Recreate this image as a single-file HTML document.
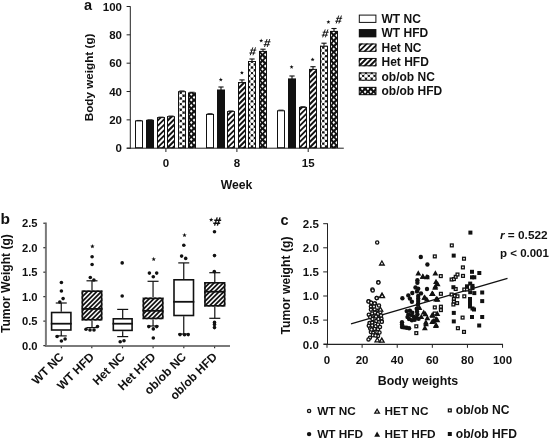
<!DOCTYPE html>
<html><head><meta charset="utf-8"><style>
html,body{margin:0;padding:0;background:#fff;}
svg{display:block;will-change:transform;}
.t{font-family:"Liberation Sans", sans-serif;font-weight:bold;font-size:11.5px;fill:#111;}
</style></head><body>
<svg width="551" height="441" viewBox="0 0 551 441">
<rect width="551" height="441" fill="#fff"/>
<line x1="130.3" y1="6.3" x2="130.3" y2="148.7" stroke="#222" stroke-width="1"/>
<line x1="126.8" y1="148.2" x2="343.8" y2="148.2" stroke="#222" stroke-width="1"/>
<line x1="126.6" y1="148.20" x2="130.3" y2="148.20" stroke="#222" stroke-width="1"/>
<text x="122" y="152.40" class="t" text-anchor="end">0</text>
<line x1="126.6" y1="119.86" x2="130.3" y2="119.86" stroke="#222" stroke-width="1"/>
<text x="122" y="124.06" class="t" text-anchor="end">20</text>
<line x1="126.6" y1="91.52" x2="130.3" y2="91.52" stroke="#222" stroke-width="1"/>
<text x="122" y="95.72" class="t" text-anchor="end">40</text>
<line x1="126.6" y1="63.18" x2="130.3" y2="63.18" stroke="#222" stroke-width="1"/>
<text x="122" y="67.38" class="t" text-anchor="end">60</text>
<line x1="126.6" y1="34.84" x2="130.3" y2="34.84" stroke="#222" stroke-width="1"/>
<text x="122" y="39.04" class="t" text-anchor="end">80</text>
<line x1="126.6" y1="6.50" x2="130.3" y2="6.50" stroke="#222" stroke-width="1"/>
<text x="122" y="10.70" class="t" text-anchor="end">100</text>
<line x1="165.9" y1="148.2" x2="165.9" y2="152" stroke="#222" stroke-width="1"/>
<text x="165.9" y="167.4" class="t" text-anchor="middle">0</text>
<line x1="236.9" y1="148.2" x2="236.9" y2="152" stroke="#222" stroke-width="1"/>
<text x="236.9" y="167.4" class="t" text-anchor="middle">8</text>
<line x1="308.2" y1="148.2" x2="308.2" y2="152" stroke="#222" stroke-width="1"/>
<text x="308.2" y="167.4" class="t" text-anchor="middle">15</text>
<text x="236.5" y="188.6" class="t" text-anchor="middle" style="font-size:12.2px">Week</text>
<text transform="translate(93.2,77.4) rotate(-90)" class="t" text-anchor="middle" style="font-size:11.7px">Body weight (g)</text>
<text x="84" y="10.4" class="t" style="font-size:14.5px">a</text>
<line x1="139.00" y1="120.50" x2="139.00" y2="120.90" stroke="#111" stroke-width="1.1"/>
<line x1="136.40" y1="120.50" x2="141.60" y2="120.50" stroke="#111" stroke-width="1.1"/>
<rect x="135.50" y="120.90" width="7.00" height="26.80" fill="#fff" stroke="#111" stroke-width="1"/>
<line x1="150.00" y1="119.90" x2="150.00" y2="120.30" stroke="#111" stroke-width="1.1"/>
<line x1="147.40" y1="119.90" x2="152.60" y2="119.90" stroke="#111" stroke-width="1.1"/>
<rect x="146.00" y="119.80" width="8.00" height="28.40" fill="#111"/>
<line x1="161.00" y1="117.20" x2="161.00" y2="117.60" stroke="#111" stroke-width="1.1"/>
<line x1="158.40" y1="117.20" x2="163.60" y2="117.20" stroke="#111" stroke-width="1.1"/>
<clipPath id="c1"><rect x="157.00" y="117.10" width="8.00" height="31.10"/></clipPath>
<g clip-path="url(#c1)">
<rect x="157.00" y="117.10" width="8.00" height="31.10" fill="#fff"/>
<line x1="155.00" y1="166.40" x2="198.10" y2="123.30" stroke="#111" stroke-width="1.75"/>
<line x1="155.00" y1="161.00" x2="198.10" y2="117.90" stroke="#111" stroke-width="1.75"/>
<line x1="155.00" y1="155.60" x2="198.10" y2="112.50" stroke="#111" stroke-width="1.75"/>
<line x1="155.00" y1="150.20" x2="198.10" y2="107.10" stroke="#111" stroke-width="1.75"/>
<line x1="155.00" y1="144.80" x2="198.10" y2="101.70" stroke="#111" stroke-width="1.75"/>
<line x1="155.00" y1="139.40" x2="198.10" y2="96.30" stroke="#111" stroke-width="1.75"/>
<line x1="155.00" y1="134.00" x2="198.10" y2="90.90" stroke="#111" stroke-width="1.75"/>
<line x1="155.00" y1="128.60" x2="198.10" y2="85.50" stroke="#111" stroke-width="1.75"/>
<line x1="155.00" y1="123.20" x2="198.10" y2="80.10" stroke="#111" stroke-width="1.75"/>
<line x1="155.00" y1="117.80" x2="198.10" y2="74.70" stroke="#111" stroke-width="1.75"/>
<line x1="155.00" y1="112.40" x2="198.10" y2="69.30" stroke="#111" stroke-width="1.75"/>
</g>
<rect x="157.50" y="117.60" width="7.00" height="30.10" fill="none" stroke="#111" stroke-width="1"/>
<line x1="171.00" y1="116.10" x2="171.00" y2="116.70" stroke="#111" stroke-width="1.1"/>
<line x1="168.40" y1="116.10" x2="173.60" y2="116.10" stroke="#111" stroke-width="1.1"/>
<clipPath id="c2"><rect x="167.00" y="116.20" width="8.00" height="32.00"/></clipPath>
<g clip-path="url(#c2)">
<rect x="167.00" y="116.20" width="8.00" height="32.00" fill="#fff"/>
<line x1="165.00" y1="166.40" x2="209.00" y2="122.40" stroke="#111" stroke-width="2.05"/>
<line x1="165.00" y1="161.00" x2="209.00" y2="117.00" stroke="#111" stroke-width="2.05"/>
<line x1="165.00" y1="155.60" x2="209.00" y2="111.60" stroke="#111" stroke-width="2.05"/>
<line x1="165.00" y1="150.20" x2="209.00" y2="106.20" stroke="#111" stroke-width="2.05"/>
<line x1="165.00" y1="144.80" x2="209.00" y2="100.80" stroke="#111" stroke-width="2.05"/>
<line x1="165.00" y1="139.40" x2="209.00" y2="95.40" stroke="#111" stroke-width="2.05"/>
<line x1="165.00" y1="134.00" x2="209.00" y2="90.00" stroke="#111" stroke-width="2.05"/>
<line x1="165.00" y1="128.60" x2="209.00" y2="84.60" stroke="#111" stroke-width="2.05"/>
<line x1="165.00" y1="123.20" x2="209.00" y2="79.20" stroke="#111" stroke-width="2.05"/>
<line x1="165.00" y1="117.80" x2="209.00" y2="73.80" stroke="#111" stroke-width="2.05"/>
<line x1="165.00" y1="112.40" x2="209.00" y2="68.40" stroke="#111" stroke-width="2.05"/>
</g>
<rect x="167.50" y="116.70" width="7.00" height="31.00" fill="none" stroke="#111" stroke-width="1"/>
<line x1="182.00" y1="91.00" x2="182.00" y2="91.70" stroke="#111" stroke-width="1.1"/>
<line x1="179.40" y1="91.00" x2="184.60" y2="91.00" stroke="#111" stroke-width="1.1"/>
<clipPath id="c3"><rect x="178.00" y="91.20" width="8.00" height="57.00"/></clipPath>
<g clip-path="url(#c3)">
<rect x="178.00" y="91.20" width="8.00" height="57.00" fill="#fff"/>
<line x1="175.05" y1="47.60" x2="189.30" y2="61.72" stroke="#444" stroke-width="0.55"/>
<line x1="175.05" y1="53.25" x2="189.30" y2="67.38" stroke="#444" stroke-width="0.55"/>
<line x1="175.05" y1="58.90" x2="189.30" y2="73.03" stroke="#444" stroke-width="0.55"/>
<line x1="175.05" y1="64.55" x2="189.30" y2="78.67" stroke="#444" stroke-width="0.55"/>
<line x1="175.05" y1="70.20" x2="189.30" y2="84.32" stroke="#444" stroke-width="0.55"/>
<line x1="175.05" y1="75.85" x2="189.30" y2="89.97" stroke="#444" stroke-width="0.55"/>
<line x1="175.05" y1="81.50" x2="189.30" y2="95.62" stroke="#444" stroke-width="0.55"/>
<line x1="175.05" y1="87.15" x2="189.30" y2="101.28" stroke="#444" stroke-width="0.55"/>
<line x1="175.05" y1="92.80" x2="189.30" y2="106.92" stroke="#444" stroke-width="0.55"/>
<line x1="175.05" y1="98.45" x2="189.30" y2="112.58" stroke="#444" stroke-width="0.55"/>
<line x1="175.05" y1="104.10" x2="189.30" y2="118.22" stroke="#444" stroke-width="0.55"/>
<line x1="175.05" y1="109.75" x2="189.30" y2="123.88" stroke="#444" stroke-width="0.55"/>
<line x1="175.05" y1="115.40" x2="189.30" y2="129.53" stroke="#444" stroke-width="0.55"/>
<line x1="175.05" y1="121.05" x2="189.30" y2="135.18" stroke="#444" stroke-width="0.55"/>
<line x1="175.05" y1="126.70" x2="189.30" y2="140.83" stroke="#444" stroke-width="0.55"/>
<line x1="175.05" y1="132.35" x2="189.30" y2="146.47" stroke="#444" stroke-width="0.55"/>
<line x1="175.05" y1="138.00" x2="189.30" y2="152.12" stroke="#444" stroke-width="0.55"/>
<line x1="175.05" y1="143.65" x2="189.30" y2="157.78" stroke="#444" stroke-width="0.55"/>
<line x1="175.05" y1="149.30" x2="189.30" y2="163.43" stroke="#444" stroke-width="0.55"/>
<line x1="175.05" y1="154.95" x2="189.30" y2="169.07" stroke="#444" stroke-width="0.55"/>
<line x1="175.05" y1="160.60" x2="189.30" y2="174.72" stroke="#444" stroke-width="0.55"/>
<line x1="175.05" y1="166.25" x2="189.30" y2="180.38" stroke="#444" stroke-width="0.55"/>
<line x1="175.05" y1="171.90" x2="189.30" y2="186.03" stroke="#444" stroke-width="0.55"/>
<line x1="175.05" y1="177.55" x2="189.30" y2="191.68" stroke="#444" stroke-width="0.55"/>
<line x1="175.05" y1="183.20" x2="189.30" y2="197.32" stroke="#444" stroke-width="0.55"/>
<line x1="175.05" y1="188.85" x2="189.30" y2="202.98" stroke="#444" stroke-width="0.55"/>
<line x1="175.05" y1="47.60" x2="189.30" y2="33.47" stroke="#444" stroke-width="0.55"/>
<line x1="175.05" y1="53.25" x2="189.30" y2="39.12" stroke="#444" stroke-width="0.55"/>
<line x1="175.05" y1="58.90" x2="189.30" y2="44.77" stroke="#444" stroke-width="0.55"/>
<line x1="175.05" y1="64.55" x2="189.30" y2="50.42" stroke="#444" stroke-width="0.55"/>
<line x1="175.05" y1="70.20" x2="189.30" y2="56.07" stroke="#444" stroke-width="0.55"/>
<line x1="175.05" y1="75.85" x2="189.30" y2="61.72" stroke="#444" stroke-width="0.55"/>
<line x1="175.05" y1="81.50" x2="189.30" y2="67.38" stroke="#444" stroke-width="0.55"/>
<line x1="175.05" y1="87.15" x2="189.30" y2="73.03" stroke="#444" stroke-width="0.55"/>
<line x1="175.05" y1="92.80" x2="189.30" y2="78.67" stroke="#444" stroke-width="0.55"/>
<line x1="175.05" y1="98.45" x2="189.30" y2="84.33" stroke="#444" stroke-width="0.55"/>
<line x1="175.05" y1="104.10" x2="189.30" y2="89.97" stroke="#444" stroke-width="0.55"/>
<line x1="175.05" y1="109.75" x2="189.30" y2="95.62" stroke="#444" stroke-width="0.55"/>
<line x1="175.05" y1="115.40" x2="189.30" y2="101.28" stroke="#444" stroke-width="0.55"/>
<line x1="175.05" y1="121.05" x2="189.30" y2="106.92" stroke="#444" stroke-width="0.55"/>
<line x1="175.05" y1="126.70" x2="189.30" y2="112.58" stroke="#444" stroke-width="0.55"/>
<line x1="175.05" y1="132.35" x2="189.30" y2="118.22" stroke="#444" stroke-width="0.55"/>
<line x1="175.05" y1="138.00" x2="189.30" y2="123.88" stroke="#444" stroke-width="0.55"/>
<line x1="175.05" y1="143.65" x2="189.30" y2="129.53" stroke="#444" stroke-width="0.55"/>
<line x1="175.05" y1="149.30" x2="189.30" y2="135.18" stroke="#444" stroke-width="0.55"/>
<line x1="175.05" y1="154.95" x2="189.30" y2="140.82" stroke="#444" stroke-width="0.55"/>
<line x1="175.05" y1="160.60" x2="189.30" y2="146.47" stroke="#444" stroke-width="0.55"/>
<line x1="175.05" y1="166.25" x2="189.30" y2="152.12" stroke="#444" stroke-width="0.55"/>
<line x1="175.05" y1="171.90" x2="189.30" y2="157.78" stroke="#444" stroke-width="0.55"/>
<line x1="175.05" y1="177.55" x2="189.30" y2="163.43" stroke="#444" stroke-width="0.55"/>
<line x1="175.05" y1="183.20" x2="189.30" y2="169.07" stroke="#444" stroke-width="0.55"/>
<line x1="175.05" y1="188.85" x2="189.30" y2="174.73" stroke="#444" stroke-width="0.55"/>
<circle cx="175.05" cy="87.15" r="1.2" fill="#111"/>
<circle cx="175.05" cy="92.80" r="1.2" fill="#111"/>
<circle cx="175.05" cy="98.45" r="1.2" fill="#111"/>
<circle cx="175.05" cy="104.10" r="1.2" fill="#111"/>
<circle cx="175.05" cy="109.75" r="1.2" fill="#111"/>
<circle cx="175.05" cy="115.40" r="1.2" fill="#111"/>
<circle cx="175.05" cy="121.05" r="1.2" fill="#111"/>
<circle cx="175.05" cy="126.70" r="1.2" fill="#111"/>
<circle cx="175.05" cy="132.35" r="1.2" fill="#111"/>
<circle cx="175.05" cy="138.00" r="1.2" fill="#111"/>
<circle cx="175.05" cy="143.65" r="1.2" fill="#111"/>
<circle cx="175.05" cy="149.30" r="1.2" fill="#111"/>
<circle cx="175.05" cy="154.95" r="1.2" fill="#111"/>
<circle cx="177.90" cy="84.40" r="1.2" fill="#111"/>
<circle cx="177.90" cy="90.05" r="1.2" fill="#111"/>
<circle cx="177.90" cy="95.70" r="1.2" fill="#111"/>
<circle cx="177.90" cy="101.35" r="1.2" fill="#111"/>
<circle cx="177.90" cy="107.00" r="1.2" fill="#111"/>
<circle cx="177.90" cy="112.65" r="1.2" fill="#111"/>
<circle cx="177.90" cy="118.30" r="1.2" fill="#111"/>
<circle cx="177.90" cy="123.95" r="1.2" fill="#111"/>
<circle cx="177.90" cy="129.60" r="1.2" fill="#111"/>
<circle cx="177.90" cy="135.25" r="1.2" fill="#111"/>
<circle cx="177.90" cy="140.90" r="1.2" fill="#111"/>
<circle cx="177.90" cy="146.55" r="1.2" fill="#111"/>
<circle cx="177.90" cy="152.20" r="1.2" fill="#111"/>
<circle cx="180.75" cy="87.15" r="1.2" fill="#111"/>
<circle cx="180.75" cy="92.80" r="1.2" fill="#111"/>
<circle cx="180.75" cy="98.45" r="1.2" fill="#111"/>
<circle cx="180.75" cy="104.10" r="1.2" fill="#111"/>
<circle cx="180.75" cy="109.75" r="1.2" fill="#111"/>
<circle cx="180.75" cy="115.40" r="1.2" fill="#111"/>
<circle cx="180.75" cy="121.05" r="1.2" fill="#111"/>
<circle cx="180.75" cy="126.70" r="1.2" fill="#111"/>
<circle cx="180.75" cy="132.35" r="1.2" fill="#111"/>
<circle cx="180.75" cy="138.00" r="1.2" fill="#111"/>
<circle cx="180.75" cy="143.65" r="1.2" fill="#111"/>
<circle cx="180.75" cy="149.30" r="1.2" fill="#111"/>
<circle cx="180.75" cy="154.95" r="1.2" fill="#111"/>
<circle cx="183.60" cy="84.40" r="1.2" fill="#111"/>
<circle cx="183.60" cy="90.05" r="1.2" fill="#111"/>
<circle cx="183.60" cy="95.70" r="1.2" fill="#111"/>
<circle cx="183.60" cy="101.35" r="1.2" fill="#111"/>
<circle cx="183.60" cy="107.00" r="1.2" fill="#111"/>
<circle cx="183.60" cy="112.65" r="1.2" fill="#111"/>
<circle cx="183.60" cy="118.30" r="1.2" fill="#111"/>
<circle cx="183.60" cy="123.95" r="1.2" fill="#111"/>
<circle cx="183.60" cy="129.60" r="1.2" fill="#111"/>
<circle cx="183.60" cy="135.25" r="1.2" fill="#111"/>
<circle cx="183.60" cy="140.90" r="1.2" fill="#111"/>
<circle cx="183.60" cy="146.55" r="1.2" fill="#111"/>
<circle cx="183.60" cy="152.20" r="1.2" fill="#111"/>
<circle cx="186.45" cy="87.15" r="1.2" fill="#111"/>
<circle cx="186.45" cy="92.80" r="1.2" fill="#111"/>
<circle cx="186.45" cy="98.45" r="1.2" fill="#111"/>
<circle cx="186.45" cy="104.10" r="1.2" fill="#111"/>
<circle cx="186.45" cy="109.75" r="1.2" fill="#111"/>
<circle cx="186.45" cy="115.40" r="1.2" fill="#111"/>
<circle cx="186.45" cy="121.05" r="1.2" fill="#111"/>
<circle cx="186.45" cy="126.70" r="1.2" fill="#111"/>
<circle cx="186.45" cy="132.35" r="1.2" fill="#111"/>
<circle cx="186.45" cy="138.00" r="1.2" fill="#111"/>
<circle cx="186.45" cy="143.65" r="1.2" fill="#111"/>
<circle cx="186.45" cy="149.30" r="1.2" fill="#111"/>
<circle cx="186.45" cy="154.95" r="1.2" fill="#111"/>
<circle cx="189.30" cy="84.40" r="1.2" fill="#111"/>
<circle cx="189.30" cy="90.05" r="1.2" fill="#111"/>
<circle cx="189.30" cy="95.70" r="1.2" fill="#111"/>
<circle cx="189.30" cy="101.35" r="1.2" fill="#111"/>
<circle cx="189.30" cy="107.00" r="1.2" fill="#111"/>
<circle cx="189.30" cy="112.65" r="1.2" fill="#111"/>
<circle cx="189.30" cy="118.30" r="1.2" fill="#111"/>
<circle cx="189.30" cy="123.95" r="1.2" fill="#111"/>
<circle cx="189.30" cy="129.60" r="1.2" fill="#111"/>
<circle cx="189.30" cy="135.25" r="1.2" fill="#111"/>
<circle cx="189.30" cy="140.90" r="1.2" fill="#111"/>
<circle cx="189.30" cy="146.55" r="1.2" fill="#111"/>
<circle cx="189.30" cy="152.20" r="1.2" fill="#111"/>
</g>
<rect x="178.50" y="91.70" width="7.00" height="56.00" fill="none" stroke="#111" stroke-width="1"/>
<line x1="192.00" y1="92.30" x2="192.00" y2="93.00" stroke="#111" stroke-width="1.1"/>
<line x1="189.40" y1="92.30" x2="194.60" y2="92.30" stroke="#111" stroke-width="1.1"/>
<clipPath id="c4"><rect x="188.00" y="92.50" width="8.00" height="55.70"/></clipPath>
<g clip-path="url(#c4)">
<rect x="188.00" y="92.50" width="8.00" height="55.70" fill="#111"/>
<path d="M185.55,87.05L186.90,88.65L185.55,90.25L184.20,88.65Z" fill="#fff"/>
<path d="M185.55,92.70L186.90,94.30L185.55,95.90L184.20,94.30Z" fill="#fff"/>
<path d="M185.55,98.35L186.90,99.95L185.55,101.55L184.20,99.95Z" fill="#fff"/>
<path d="M185.55,104.00L186.90,105.60L185.55,107.20L184.20,105.60Z" fill="#fff"/>
<path d="M185.55,109.65L186.90,111.25L185.55,112.85L184.20,111.25Z" fill="#fff"/>
<path d="M185.55,115.30L186.90,116.90L185.55,118.50L184.20,116.90Z" fill="#fff"/>
<path d="M185.55,120.95L186.90,122.55L185.55,124.15L184.20,122.55Z" fill="#fff"/>
<path d="M185.55,126.60L186.90,128.20L185.55,129.80L184.20,128.20Z" fill="#fff"/>
<path d="M185.55,132.25L186.90,133.85L185.55,135.45L184.20,133.85Z" fill="#fff"/>
<path d="M185.55,137.90L186.90,139.50L185.55,141.10L184.20,139.50Z" fill="#fff"/>
<path d="M185.55,143.55L186.90,145.15L185.55,146.75L184.20,145.15Z" fill="#fff"/>
<path d="M185.55,149.20L186.90,150.80L185.55,152.40L184.20,150.80Z" fill="#fff"/>
<path d="M185.55,154.85L186.90,156.45L185.55,158.05L184.20,156.45Z" fill="#fff"/>
<path d="M188.40,84.55L189.75,86.15L188.40,87.75L187.05,86.15Z" fill="#fff"/>
<path d="M188.40,90.20L189.75,91.80L188.40,93.40L187.05,91.80Z" fill="#fff"/>
<path d="M188.40,95.85L189.75,97.45L188.40,99.05L187.05,97.45Z" fill="#fff"/>
<path d="M188.40,101.50L189.75,103.10L188.40,104.70L187.05,103.10Z" fill="#fff"/>
<path d="M188.40,107.15L189.75,108.75L188.40,110.35L187.05,108.75Z" fill="#fff"/>
<path d="M188.40,112.80L189.75,114.40L188.40,116.00L187.05,114.40Z" fill="#fff"/>
<path d="M188.40,118.45L189.75,120.05L188.40,121.65L187.05,120.05Z" fill="#fff"/>
<path d="M188.40,124.10L189.75,125.70L188.40,127.30L187.05,125.70Z" fill="#fff"/>
<path d="M188.40,129.75L189.75,131.35L188.40,132.95L187.05,131.35Z" fill="#fff"/>
<path d="M188.40,135.40L189.75,137.00L188.40,138.60L187.05,137.00Z" fill="#fff"/>
<path d="M188.40,141.05L189.75,142.65L188.40,144.25L187.05,142.65Z" fill="#fff"/>
<path d="M188.40,146.70L189.75,148.30L188.40,149.90L187.05,148.30Z" fill="#fff"/>
<path d="M188.40,152.35L189.75,153.95L188.40,155.55L187.05,153.95Z" fill="#fff"/>
<path d="M191.25,87.05L192.60,88.65L191.25,90.25L189.90,88.65Z" fill="#fff"/>
<path d="M191.25,92.70L192.60,94.30L191.25,95.90L189.90,94.30Z" fill="#fff"/>
<path d="M191.25,98.35L192.60,99.95L191.25,101.55L189.90,99.95Z" fill="#fff"/>
<path d="M191.25,104.00L192.60,105.60L191.25,107.20L189.90,105.60Z" fill="#fff"/>
<path d="M191.25,109.65L192.60,111.25L191.25,112.85L189.90,111.25Z" fill="#fff"/>
<path d="M191.25,115.30L192.60,116.90L191.25,118.50L189.90,116.90Z" fill="#fff"/>
<path d="M191.25,120.95L192.60,122.55L191.25,124.15L189.90,122.55Z" fill="#fff"/>
<path d="M191.25,126.60L192.60,128.20L191.25,129.80L189.90,128.20Z" fill="#fff"/>
<path d="M191.25,132.25L192.60,133.85L191.25,135.45L189.90,133.85Z" fill="#fff"/>
<path d="M191.25,137.90L192.60,139.50L191.25,141.10L189.90,139.50Z" fill="#fff"/>
<path d="M191.25,143.55L192.60,145.15L191.25,146.75L189.90,145.15Z" fill="#fff"/>
<path d="M191.25,149.20L192.60,150.80L191.25,152.40L189.90,150.80Z" fill="#fff"/>
<path d="M191.25,154.85L192.60,156.45L191.25,158.05L189.90,156.45Z" fill="#fff"/>
<path d="M194.10,84.55L195.45,86.15L194.10,87.75L192.75,86.15Z" fill="#fff"/>
<path d="M194.10,90.20L195.45,91.80L194.10,93.40L192.75,91.80Z" fill="#fff"/>
<path d="M194.10,95.85L195.45,97.45L194.10,99.05L192.75,97.45Z" fill="#fff"/>
<path d="M194.10,101.50L195.45,103.10L194.10,104.70L192.75,103.10Z" fill="#fff"/>
<path d="M194.10,107.15L195.45,108.75L194.10,110.35L192.75,108.75Z" fill="#fff"/>
<path d="M194.10,112.80L195.45,114.40L194.10,116.00L192.75,114.40Z" fill="#fff"/>
<path d="M194.10,118.45L195.45,120.05L194.10,121.65L192.75,120.05Z" fill="#fff"/>
<path d="M194.10,124.10L195.45,125.70L194.10,127.30L192.75,125.70Z" fill="#fff"/>
<path d="M194.10,129.75L195.45,131.35L194.10,132.95L192.75,131.35Z" fill="#fff"/>
<path d="M194.10,135.40L195.45,137.00L194.10,138.60L192.75,137.00Z" fill="#fff"/>
<path d="M194.10,141.05L195.45,142.65L194.10,144.25L192.75,142.65Z" fill="#fff"/>
<path d="M194.10,146.70L195.45,148.30L194.10,149.90L192.75,148.30Z" fill="#fff"/>
<path d="M194.10,152.35L195.45,153.95L194.10,155.55L192.75,153.95Z" fill="#fff"/>
<path d="M196.95,87.05L198.30,88.65L196.95,90.25L195.60,88.65Z" fill="#fff"/>
<path d="M196.95,92.70L198.30,94.30L196.95,95.90L195.60,94.30Z" fill="#fff"/>
<path d="M196.95,98.35L198.30,99.95L196.95,101.55L195.60,99.95Z" fill="#fff"/>
<path d="M196.95,104.00L198.30,105.60L196.95,107.20L195.60,105.60Z" fill="#fff"/>
<path d="M196.95,109.65L198.30,111.25L196.95,112.85L195.60,111.25Z" fill="#fff"/>
<path d="M196.95,115.30L198.30,116.90L196.95,118.50L195.60,116.90Z" fill="#fff"/>
<path d="M196.95,120.95L198.30,122.55L196.95,124.15L195.60,122.55Z" fill="#fff"/>
<path d="M196.95,126.60L198.30,128.20L196.95,129.80L195.60,128.20Z" fill="#fff"/>
<path d="M196.95,132.25L198.30,133.85L196.95,135.45L195.60,133.85Z" fill="#fff"/>
<path d="M196.95,137.90L198.30,139.50L196.95,141.10L195.60,139.50Z" fill="#fff"/>
<path d="M196.95,143.55L198.30,145.15L196.95,146.75L195.60,145.15Z" fill="#fff"/>
<path d="M196.95,149.20L198.30,150.80L196.95,152.40L195.60,150.80Z" fill="#fff"/>
<path d="M196.95,154.85L198.30,156.45L196.95,158.05L195.60,156.45Z" fill="#fff"/>
<path d="M199.80,84.55L201.15,86.15L199.80,87.75L198.45,86.15Z" fill="#fff"/>
<path d="M199.80,90.20L201.15,91.80L199.80,93.40L198.45,91.80Z" fill="#fff"/>
<path d="M199.80,95.85L201.15,97.45L199.80,99.05L198.45,97.45Z" fill="#fff"/>
<path d="M199.80,101.50L201.15,103.10L199.80,104.70L198.45,103.10Z" fill="#fff"/>
<path d="M199.80,107.15L201.15,108.75L199.80,110.35L198.45,108.75Z" fill="#fff"/>
<path d="M199.80,112.80L201.15,114.40L199.80,116.00L198.45,114.40Z" fill="#fff"/>
<path d="M199.80,118.45L201.15,120.05L199.80,121.65L198.45,120.05Z" fill="#fff"/>
<path d="M199.80,124.10L201.15,125.70L199.80,127.30L198.45,125.70Z" fill="#fff"/>
<path d="M199.80,129.75L201.15,131.35L199.80,132.95L198.45,131.35Z" fill="#fff"/>
<path d="M199.80,135.40L201.15,137.00L199.80,138.60L198.45,137.00Z" fill="#fff"/>
<path d="M199.80,141.05L201.15,142.65L199.80,144.25L198.45,142.65Z" fill="#fff"/>
<path d="M199.80,146.70L201.15,148.30L199.80,149.90L198.45,148.30Z" fill="#fff"/>
<path d="M199.80,152.35L201.15,153.95L199.80,155.55L198.45,153.95Z" fill="#fff"/>
</g>
<rect x="188.50" y="93.00" width="7.00" height="54.70" fill="none" stroke="#111" stroke-width="1"/>
<line x1="210.00" y1="113.80" x2="210.00" y2="114.40" stroke="#111" stroke-width="1.1"/>
<line x1="207.40" y1="113.80" x2="212.60" y2="113.80" stroke="#111" stroke-width="1.1"/>
<rect x="206.50" y="114.40" width="7.00" height="33.30" fill="#fff" stroke="#111" stroke-width="1"/>
<line x1="221.00" y1="87.00" x2="221.00" y2="90.00" stroke="#111" stroke-width="1.1"/>
<line x1="218.40" y1="87.00" x2="223.60" y2="87.00" stroke="#111" stroke-width="1.1"/>
<rect x="217.00" y="89.50" width="8.00" height="58.70" fill="#111"/>
<line x1="231.00" y1="111.00" x2="231.00" y2="111.60" stroke="#111" stroke-width="1.1"/>
<line x1="228.40" y1="111.00" x2="233.60" y2="111.00" stroke="#111" stroke-width="1.1"/>
<clipPath id="c5"><rect x="227.00" y="111.10" width="8.00" height="37.10"/></clipPath>
<g clip-path="url(#c5)">
<rect x="227.00" y="111.10" width="8.00" height="37.10" fill="#fff"/>
<line x1="225.00" y1="166.40" x2="274.10" y2="117.30" stroke="#111" stroke-width="1.75"/>
<line x1="225.00" y1="161.00" x2="274.10" y2="111.90" stroke="#111" stroke-width="1.75"/>
<line x1="225.00" y1="155.60" x2="274.10" y2="106.50" stroke="#111" stroke-width="1.75"/>
<line x1="225.00" y1="150.20" x2="274.10" y2="101.10" stroke="#111" stroke-width="1.75"/>
<line x1="225.00" y1="144.80" x2="274.10" y2="95.70" stroke="#111" stroke-width="1.75"/>
<line x1="225.00" y1="139.40" x2="274.10" y2="90.30" stroke="#111" stroke-width="1.75"/>
<line x1="225.00" y1="134.00" x2="274.10" y2="84.90" stroke="#111" stroke-width="1.75"/>
<line x1="225.00" y1="128.60" x2="274.10" y2="79.50" stroke="#111" stroke-width="1.75"/>
<line x1="225.00" y1="123.20" x2="274.10" y2="74.10" stroke="#111" stroke-width="1.75"/>
<line x1="225.00" y1="117.80" x2="274.10" y2="68.70" stroke="#111" stroke-width="1.75"/>
<line x1="225.00" y1="112.40" x2="274.10" y2="63.30" stroke="#111" stroke-width="1.75"/>
<line x1="225.00" y1="107.00" x2="274.10" y2="57.90" stroke="#111" stroke-width="1.75"/>
</g>
<rect x="227.50" y="111.60" width="7.00" height="36.10" fill="none" stroke="#111" stroke-width="1"/>
<line x1="242.00" y1="79.90" x2="242.00" y2="82.60" stroke="#111" stroke-width="1.1"/>
<line x1="239.40" y1="79.90" x2="244.60" y2="79.90" stroke="#111" stroke-width="1.1"/>
<clipPath id="c6"><rect x="238.00" y="82.10" width="8.00" height="66.10"/></clipPath>
<g clip-path="url(#c6)">
<rect x="238.00" y="82.10" width="8.00" height="66.10" fill="#fff"/>
<line x1="236.00" y1="166.40" x2="314.10" y2="88.30" stroke="#111" stroke-width="2.05"/>
<line x1="236.00" y1="161.00" x2="314.10" y2="82.90" stroke="#111" stroke-width="2.05"/>
<line x1="236.00" y1="155.60" x2="314.10" y2="77.50" stroke="#111" stroke-width="2.05"/>
<line x1="236.00" y1="150.20" x2="314.10" y2="72.10" stroke="#111" stroke-width="2.05"/>
<line x1="236.00" y1="144.80" x2="314.10" y2="66.70" stroke="#111" stroke-width="2.05"/>
<line x1="236.00" y1="139.40" x2="314.10" y2="61.30" stroke="#111" stroke-width="2.05"/>
<line x1="236.00" y1="134.00" x2="314.10" y2="55.90" stroke="#111" stroke-width="2.05"/>
<line x1="236.00" y1="128.60" x2="314.10" y2="50.50" stroke="#111" stroke-width="2.05"/>
<line x1="236.00" y1="123.20" x2="314.10" y2="45.10" stroke="#111" stroke-width="2.05"/>
<line x1="236.00" y1="117.80" x2="314.10" y2="39.70" stroke="#111" stroke-width="2.05"/>
<line x1="236.00" y1="112.40" x2="314.10" y2="34.30" stroke="#111" stroke-width="2.05"/>
<line x1="236.00" y1="107.00" x2="314.10" y2="28.90" stroke="#111" stroke-width="2.05"/>
<line x1="236.00" y1="101.60" x2="314.10" y2="23.50" stroke="#111" stroke-width="2.05"/>
<line x1="236.00" y1="96.20" x2="314.10" y2="18.10" stroke="#111" stroke-width="2.05"/>
<line x1="236.00" y1="90.80" x2="314.10" y2="12.70" stroke="#111" stroke-width="2.05"/>
<line x1="236.00" y1="85.40" x2="314.10" y2="7.30" stroke="#111" stroke-width="2.05"/>
<line x1="236.00" y1="80.00" x2="314.10" y2="1.90" stroke="#111" stroke-width="2.05"/>
<line x1="236.00" y1="74.60" x2="314.10" y2="-3.50" stroke="#111" stroke-width="2.05"/>
</g>
<rect x="238.50" y="82.60" width="7.00" height="65.10" fill="none" stroke="#111" stroke-width="1"/>
<line x1="252.00" y1="59.00" x2="252.00" y2="61.50" stroke="#111" stroke-width="1.1"/>
<line x1="249.40" y1="59.00" x2="254.60" y2="59.00" stroke="#111" stroke-width="1.1"/>
<clipPath id="c7"><rect x="248.00" y="61.00" width="8.00" height="87.20"/></clipPath>
<g clip-path="url(#c7)">
<rect x="248.00" y="61.00" width="8.00" height="87.20" fill="#fff"/>
<line x1="243.45" y1="19.35" x2="260.55" y2="36.30" stroke="#444" stroke-width="0.55"/>
<line x1="243.45" y1="25.00" x2="260.55" y2="41.95" stroke="#444" stroke-width="0.55"/>
<line x1="243.45" y1="30.65" x2="260.55" y2="47.60" stroke="#444" stroke-width="0.55"/>
<line x1="243.45" y1="36.30" x2="260.55" y2="53.25" stroke="#444" stroke-width="0.55"/>
<line x1="243.45" y1="41.95" x2="260.55" y2="58.90" stroke="#444" stroke-width="0.55"/>
<line x1="243.45" y1="47.60" x2="260.55" y2="64.55" stroke="#444" stroke-width="0.55"/>
<line x1="243.45" y1="53.25" x2="260.55" y2="70.20" stroke="#444" stroke-width="0.55"/>
<line x1="243.45" y1="58.90" x2="260.55" y2="75.85" stroke="#444" stroke-width="0.55"/>
<line x1="243.45" y1="64.55" x2="260.55" y2="81.50" stroke="#444" stroke-width="0.55"/>
<line x1="243.45" y1="70.20" x2="260.55" y2="87.15" stroke="#444" stroke-width="0.55"/>
<line x1="243.45" y1="75.85" x2="260.55" y2="92.80" stroke="#444" stroke-width="0.55"/>
<line x1="243.45" y1="81.50" x2="260.55" y2="98.45" stroke="#444" stroke-width="0.55"/>
<line x1="243.45" y1="87.15" x2="260.55" y2="104.10" stroke="#444" stroke-width="0.55"/>
<line x1="243.45" y1="92.80" x2="260.55" y2="109.75" stroke="#444" stroke-width="0.55"/>
<line x1="243.45" y1="98.45" x2="260.55" y2="115.40" stroke="#444" stroke-width="0.55"/>
<line x1="243.45" y1="104.10" x2="260.55" y2="121.05" stroke="#444" stroke-width="0.55"/>
<line x1="243.45" y1="109.75" x2="260.55" y2="126.70" stroke="#444" stroke-width="0.55"/>
<line x1="243.45" y1="115.40" x2="260.55" y2="132.35" stroke="#444" stroke-width="0.55"/>
<line x1="243.45" y1="121.05" x2="260.55" y2="138.00" stroke="#444" stroke-width="0.55"/>
<line x1="243.45" y1="126.70" x2="260.55" y2="143.65" stroke="#444" stroke-width="0.55"/>
<line x1="243.45" y1="132.35" x2="260.55" y2="149.30" stroke="#444" stroke-width="0.55"/>
<line x1="243.45" y1="138.00" x2="260.55" y2="154.95" stroke="#444" stroke-width="0.55"/>
<line x1="243.45" y1="143.65" x2="260.55" y2="160.60" stroke="#444" stroke-width="0.55"/>
<line x1="243.45" y1="149.30" x2="260.55" y2="166.25" stroke="#444" stroke-width="0.55"/>
<line x1="243.45" y1="154.95" x2="260.55" y2="171.90" stroke="#444" stroke-width="0.55"/>
<line x1="243.45" y1="160.60" x2="260.55" y2="177.55" stroke="#444" stroke-width="0.55"/>
<line x1="243.45" y1="166.25" x2="260.55" y2="183.20" stroke="#444" stroke-width="0.55"/>
<line x1="243.45" y1="171.90" x2="260.55" y2="188.85" stroke="#444" stroke-width="0.55"/>
<line x1="243.45" y1="177.55" x2="260.55" y2="194.50" stroke="#444" stroke-width="0.55"/>
<line x1="243.45" y1="183.20" x2="260.55" y2="200.15" stroke="#444" stroke-width="0.55"/>
<line x1="243.45" y1="188.85" x2="260.55" y2="205.80" stroke="#444" stroke-width="0.55"/>
<line x1="243.45" y1="19.35" x2="260.55" y2="2.40" stroke="#444" stroke-width="0.55"/>
<line x1="243.45" y1="25.00" x2="260.55" y2="8.05" stroke="#444" stroke-width="0.55"/>
<line x1="243.45" y1="30.65" x2="260.55" y2="13.70" stroke="#444" stroke-width="0.55"/>
<line x1="243.45" y1="36.30" x2="260.55" y2="19.35" stroke="#444" stroke-width="0.55"/>
<line x1="243.45" y1="41.95" x2="260.55" y2="25.00" stroke="#444" stroke-width="0.55"/>
<line x1="243.45" y1="47.60" x2="260.55" y2="30.65" stroke="#444" stroke-width="0.55"/>
<line x1="243.45" y1="53.25" x2="260.55" y2="36.30" stroke="#444" stroke-width="0.55"/>
<line x1="243.45" y1="58.90" x2="260.55" y2="41.95" stroke="#444" stroke-width="0.55"/>
<line x1="243.45" y1="64.55" x2="260.55" y2="47.60" stroke="#444" stroke-width="0.55"/>
<line x1="243.45" y1="70.20" x2="260.55" y2="53.25" stroke="#444" stroke-width="0.55"/>
<line x1="243.45" y1="75.85" x2="260.55" y2="58.90" stroke="#444" stroke-width="0.55"/>
<line x1="243.45" y1="81.50" x2="260.55" y2="64.55" stroke="#444" stroke-width="0.55"/>
<line x1="243.45" y1="87.15" x2="260.55" y2="70.20" stroke="#444" stroke-width="0.55"/>
<line x1="243.45" y1="92.80" x2="260.55" y2="75.85" stroke="#444" stroke-width="0.55"/>
<line x1="243.45" y1="98.45" x2="260.55" y2="81.50" stroke="#444" stroke-width="0.55"/>
<line x1="243.45" y1="104.10" x2="260.55" y2="87.15" stroke="#444" stroke-width="0.55"/>
<line x1="243.45" y1="109.75" x2="260.55" y2="92.80" stroke="#444" stroke-width="0.55"/>
<line x1="243.45" y1="115.40" x2="260.55" y2="98.45" stroke="#444" stroke-width="0.55"/>
<line x1="243.45" y1="121.05" x2="260.55" y2="104.10" stroke="#444" stroke-width="0.55"/>
<line x1="243.45" y1="126.70" x2="260.55" y2="109.75" stroke="#444" stroke-width="0.55"/>
<line x1="243.45" y1="132.35" x2="260.55" y2="115.40" stroke="#444" stroke-width="0.55"/>
<line x1="243.45" y1="138.00" x2="260.55" y2="121.05" stroke="#444" stroke-width="0.55"/>
<line x1="243.45" y1="143.65" x2="260.55" y2="126.70" stroke="#444" stroke-width="0.55"/>
<line x1="243.45" y1="149.30" x2="260.55" y2="132.35" stroke="#444" stroke-width="0.55"/>
<line x1="243.45" y1="154.95" x2="260.55" y2="138.00" stroke="#444" stroke-width="0.55"/>
<line x1="243.45" y1="160.60" x2="260.55" y2="143.65" stroke="#444" stroke-width="0.55"/>
<line x1="243.45" y1="166.25" x2="260.55" y2="149.30" stroke="#444" stroke-width="0.55"/>
<line x1="243.45" y1="171.90" x2="260.55" y2="154.95" stroke="#444" stroke-width="0.55"/>
<line x1="243.45" y1="177.55" x2="260.55" y2="160.60" stroke="#444" stroke-width="0.55"/>
<line x1="243.45" y1="183.20" x2="260.55" y2="166.25" stroke="#444" stroke-width="0.55"/>
<line x1="243.45" y1="188.85" x2="260.55" y2="171.90" stroke="#444" stroke-width="0.55"/>
<circle cx="243.45" cy="53.25" r="1.2" fill="#111"/>
<circle cx="243.45" cy="58.90" r="1.2" fill="#111"/>
<circle cx="243.45" cy="64.55" r="1.2" fill="#111"/>
<circle cx="243.45" cy="70.20" r="1.2" fill="#111"/>
<circle cx="243.45" cy="75.85" r="1.2" fill="#111"/>
<circle cx="243.45" cy="81.50" r="1.2" fill="#111"/>
<circle cx="243.45" cy="87.15" r="1.2" fill="#111"/>
<circle cx="243.45" cy="92.80" r="1.2" fill="#111"/>
<circle cx="243.45" cy="98.45" r="1.2" fill="#111"/>
<circle cx="243.45" cy="104.10" r="1.2" fill="#111"/>
<circle cx="243.45" cy="109.75" r="1.2" fill="#111"/>
<circle cx="243.45" cy="115.40" r="1.2" fill="#111"/>
<circle cx="243.45" cy="121.05" r="1.2" fill="#111"/>
<circle cx="243.45" cy="126.70" r="1.2" fill="#111"/>
<circle cx="243.45" cy="132.35" r="1.2" fill="#111"/>
<circle cx="243.45" cy="138.00" r="1.2" fill="#111"/>
<circle cx="243.45" cy="143.65" r="1.2" fill="#111"/>
<circle cx="243.45" cy="149.30" r="1.2" fill="#111"/>
<circle cx="243.45" cy="154.95" r="1.2" fill="#111"/>
<circle cx="246.30" cy="56.15" r="1.2" fill="#111"/>
<circle cx="246.30" cy="61.80" r="1.2" fill="#111"/>
<circle cx="246.30" cy="67.45" r="1.2" fill="#111"/>
<circle cx="246.30" cy="73.10" r="1.2" fill="#111"/>
<circle cx="246.30" cy="78.75" r="1.2" fill="#111"/>
<circle cx="246.30" cy="84.40" r="1.2" fill="#111"/>
<circle cx="246.30" cy="90.05" r="1.2" fill="#111"/>
<circle cx="246.30" cy="95.70" r="1.2" fill="#111"/>
<circle cx="246.30" cy="101.35" r="1.2" fill="#111"/>
<circle cx="246.30" cy="107.00" r="1.2" fill="#111"/>
<circle cx="246.30" cy="112.65" r="1.2" fill="#111"/>
<circle cx="246.30" cy="118.30" r="1.2" fill="#111"/>
<circle cx="246.30" cy="123.95" r="1.2" fill="#111"/>
<circle cx="246.30" cy="129.60" r="1.2" fill="#111"/>
<circle cx="246.30" cy="135.25" r="1.2" fill="#111"/>
<circle cx="246.30" cy="140.90" r="1.2" fill="#111"/>
<circle cx="246.30" cy="146.55" r="1.2" fill="#111"/>
<circle cx="246.30" cy="152.20" r="1.2" fill="#111"/>
<circle cx="249.15" cy="53.25" r="1.2" fill="#111"/>
<circle cx="249.15" cy="58.90" r="1.2" fill="#111"/>
<circle cx="249.15" cy="64.55" r="1.2" fill="#111"/>
<circle cx="249.15" cy="70.20" r="1.2" fill="#111"/>
<circle cx="249.15" cy="75.85" r="1.2" fill="#111"/>
<circle cx="249.15" cy="81.50" r="1.2" fill="#111"/>
<circle cx="249.15" cy="87.15" r="1.2" fill="#111"/>
<circle cx="249.15" cy="92.80" r="1.2" fill="#111"/>
<circle cx="249.15" cy="98.45" r="1.2" fill="#111"/>
<circle cx="249.15" cy="104.10" r="1.2" fill="#111"/>
<circle cx="249.15" cy="109.75" r="1.2" fill="#111"/>
<circle cx="249.15" cy="115.40" r="1.2" fill="#111"/>
<circle cx="249.15" cy="121.05" r="1.2" fill="#111"/>
<circle cx="249.15" cy="126.70" r="1.2" fill="#111"/>
<circle cx="249.15" cy="132.35" r="1.2" fill="#111"/>
<circle cx="249.15" cy="138.00" r="1.2" fill="#111"/>
<circle cx="249.15" cy="143.65" r="1.2" fill="#111"/>
<circle cx="249.15" cy="149.30" r="1.2" fill="#111"/>
<circle cx="249.15" cy="154.95" r="1.2" fill="#111"/>
<circle cx="252.00" cy="56.15" r="1.2" fill="#111"/>
<circle cx="252.00" cy="61.80" r="1.2" fill="#111"/>
<circle cx="252.00" cy="67.45" r="1.2" fill="#111"/>
<circle cx="252.00" cy="73.10" r="1.2" fill="#111"/>
<circle cx="252.00" cy="78.75" r="1.2" fill="#111"/>
<circle cx="252.00" cy="84.40" r="1.2" fill="#111"/>
<circle cx="252.00" cy="90.05" r="1.2" fill="#111"/>
<circle cx="252.00" cy="95.70" r="1.2" fill="#111"/>
<circle cx="252.00" cy="101.35" r="1.2" fill="#111"/>
<circle cx="252.00" cy="107.00" r="1.2" fill="#111"/>
<circle cx="252.00" cy="112.65" r="1.2" fill="#111"/>
<circle cx="252.00" cy="118.30" r="1.2" fill="#111"/>
<circle cx="252.00" cy="123.95" r="1.2" fill="#111"/>
<circle cx="252.00" cy="129.60" r="1.2" fill="#111"/>
<circle cx="252.00" cy="135.25" r="1.2" fill="#111"/>
<circle cx="252.00" cy="140.90" r="1.2" fill="#111"/>
<circle cx="252.00" cy="146.55" r="1.2" fill="#111"/>
<circle cx="252.00" cy="152.20" r="1.2" fill="#111"/>
<circle cx="254.85" cy="53.25" r="1.2" fill="#111"/>
<circle cx="254.85" cy="58.90" r="1.2" fill="#111"/>
<circle cx="254.85" cy="64.55" r="1.2" fill="#111"/>
<circle cx="254.85" cy="70.20" r="1.2" fill="#111"/>
<circle cx="254.85" cy="75.85" r="1.2" fill="#111"/>
<circle cx="254.85" cy="81.50" r="1.2" fill="#111"/>
<circle cx="254.85" cy="87.15" r="1.2" fill="#111"/>
<circle cx="254.85" cy="92.80" r="1.2" fill="#111"/>
<circle cx="254.85" cy="98.45" r="1.2" fill="#111"/>
<circle cx="254.85" cy="104.10" r="1.2" fill="#111"/>
<circle cx="254.85" cy="109.75" r="1.2" fill="#111"/>
<circle cx="254.85" cy="115.40" r="1.2" fill="#111"/>
<circle cx="254.85" cy="121.05" r="1.2" fill="#111"/>
<circle cx="254.85" cy="126.70" r="1.2" fill="#111"/>
<circle cx="254.85" cy="132.35" r="1.2" fill="#111"/>
<circle cx="254.85" cy="138.00" r="1.2" fill="#111"/>
<circle cx="254.85" cy="143.65" r="1.2" fill="#111"/>
<circle cx="254.85" cy="149.30" r="1.2" fill="#111"/>
<circle cx="254.85" cy="154.95" r="1.2" fill="#111"/>
<circle cx="257.70" cy="56.15" r="1.2" fill="#111"/>
<circle cx="257.70" cy="61.80" r="1.2" fill="#111"/>
<circle cx="257.70" cy="67.45" r="1.2" fill="#111"/>
<circle cx="257.70" cy="73.10" r="1.2" fill="#111"/>
<circle cx="257.70" cy="78.75" r="1.2" fill="#111"/>
<circle cx="257.70" cy="84.40" r="1.2" fill="#111"/>
<circle cx="257.70" cy="90.05" r="1.2" fill="#111"/>
<circle cx="257.70" cy="95.70" r="1.2" fill="#111"/>
<circle cx="257.70" cy="101.35" r="1.2" fill="#111"/>
<circle cx="257.70" cy="107.00" r="1.2" fill="#111"/>
<circle cx="257.70" cy="112.65" r="1.2" fill="#111"/>
<circle cx="257.70" cy="118.30" r="1.2" fill="#111"/>
<circle cx="257.70" cy="123.95" r="1.2" fill="#111"/>
<circle cx="257.70" cy="129.60" r="1.2" fill="#111"/>
<circle cx="257.70" cy="135.25" r="1.2" fill="#111"/>
<circle cx="257.70" cy="140.90" r="1.2" fill="#111"/>
<circle cx="257.70" cy="146.55" r="1.2" fill="#111"/>
<circle cx="257.70" cy="152.20" r="1.2" fill="#111"/>
<circle cx="260.55" cy="53.25" r="1.2" fill="#111"/>
<circle cx="260.55" cy="58.90" r="1.2" fill="#111"/>
<circle cx="260.55" cy="64.55" r="1.2" fill="#111"/>
<circle cx="260.55" cy="70.20" r="1.2" fill="#111"/>
<circle cx="260.55" cy="75.85" r="1.2" fill="#111"/>
<circle cx="260.55" cy="81.50" r="1.2" fill="#111"/>
<circle cx="260.55" cy="87.15" r="1.2" fill="#111"/>
<circle cx="260.55" cy="92.80" r="1.2" fill="#111"/>
<circle cx="260.55" cy="98.45" r="1.2" fill="#111"/>
<circle cx="260.55" cy="104.10" r="1.2" fill="#111"/>
<circle cx="260.55" cy="109.75" r="1.2" fill="#111"/>
<circle cx="260.55" cy="115.40" r="1.2" fill="#111"/>
<circle cx="260.55" cy="121.05" r="1.2" fill="#111"/>
<circle cx="260.55" cy="126.70" r="1.2" fill="#111"/>
<circle cx="260.55" cy="132.35" r="1.2" fill="#111"/>
<circle cx="260.55" cy="138.00" r="1.2" fill="#111"/>
<circle cx="260.55" cy="143.65" r="1.2" fill="#111"/>
<circle cx="260.55" cy="149.30" r="1.2" fill="#111"/>
<circle cx="260.55" cy="154.95" r="1.2" fill="#111"/>
</g>
<rect x="248.50" y="61.50" width="7.00" height="86.20" fill="none" stroke="#111" stroke-width="1"/>
<line x1="263.00" y1="49.20" x2="263.00" y2="51.40" stroke="#111" stroke-width="1.1"/>
<line x1="260.40" y1="49.20" x2="265.60" y2="49.20" stroke="#111" stroke-width="1.1"/>
<clipPath id="c8"><rect x="259.00" y="50.90" width="8.00" height="97.30"/></clipPath>
<g clip-path="url(#c8)">
<rect x="259.00" y="50.90" width="8.00" height="97.30" fill="#111"/>
<path d="M256.80,45.00L258.15,46.60L256.80,48.20L255.45,46.60Z" fill="#fff"/>
<path d="M256.80,50.65L258.15,52.25L256.80,53.85L255.45,52.25Z" fill="#fff"/>
<path d="M256.80,56.30L258.15,57.90L256.80,59.50L255.45,57.90Z" fill="#fff"/>
<path d="M256.80,61.95L258.15,63.55L256.80,65.15L255.45,63.55Z" fill="#fff"/>
<path d="M256.80,67.60L258.15,69.20L256.80,70.80L255.45,69.20Z" fill="#fff"/>
<path d="M256.80,73.25L258.15,74.85L256.80,76.45L255.45,74.85Z" fill="#fff"/>
<path d="M256.80,78.90L258.15,80.50L256.80,82.10L255.45,80.50Z" fill="#fff"/>
<path d="M256.80,84.55L258.15,86.15L256.80,87.75L255.45,86.15Z" fill="#fff"/>
<path d="M256.80,90.20L258.15,91.80L256.80,93.40L255.45,91.80Z" fill="#fff"/>
<path d="M256.80,95.85L258.15,97.45L256.80,99.05L255.45,97.45Z" fill="#fff"/>
<path d="M256.80,101.50L258.15,103.10L256.80,104.70L255.45,103.10Z" fill="#fff"/>
<path d="M256.80,107.15L258.15,108.75L256.80,110.35L255.45,108.75Z" fill="#fff"/>
<path d="M256.80,112.80L258.15,114.40L256.80,116.00L255.45,114.40Z" fill="#fff"/>
<path d="M256.80,118.45L258.15,120.05L256.80,121.65L255.45,120.05Z" fill="#fff"/>
<path d="M256.80,124.10L258.15,125.70L256.80,127.30L255.45,125.70Z" fill="#fff"/>
<path d="M256.80,129.75L258.15,131.35L256.80,132.95L255.45,131.35Z" fill="#fff"/>
<path d="M256.80,135.40L258.15,137.00L256.80,138.60L255.45,137.00Z" fill="#fff"/>
<path d="M256.80,141.05L258.15,142.65L256.80,144.25L255.45,142.65Z" fill="#fff"/>
<path d="M256.80,146.70L258.15,148.30L256.80,149.90L255.45,148.30Z" fill="#fff"/>
<path d="M256.80,152.35L258.15,153.95L256.80,155.55L255.45,153.95Z" fill="#fff"/>
<path d="M259.65,41.85L261.00,43.45L259.65,45.05L258.30,43.45Z" fill="#fff"/>
<path d="M259.65,47.50L261.00,49.10L259.65,50.70L258.30,49.10Z" fill="#fff"/>
<path d="M259.65,53.15L261.00,54.75L259.65,56.35L258.30,54.75Z" fill="#fff"/>
<path d="M259.65,58.80L261.00,60.40L259.65,62.00L258.30,60.40Z" fill="#fff"/>
<path d="M259.65,64.45L261.00,66.05L259.65,67.65L258.30,66.05Z" fill="#fff"/>
<path d="M259.65,70.10L261.00,71.70L259.65,73.30L258.30,71.70Z" fill="#fff"/>
<path d="M259.65,75.75L261.00,77.35L259.65,78.95L258.30,77.35Z" fill="#fff"/>
<path d="M259.65,81.40L261.00,83.00L259.65,84.60L258.30,83.00Z" fill="#fff"/>
<path d="M259.65,87.05L261.00,88.65L259.65,90.25L258.30,88.65Z" fill="#fff"/>
<path d="M259.65,92.70L261.00,94.30L259.65,95.90L258.30,94.30Z" fill="#fff"/>
<path d="M259.65,98.35L261.00,99.95L259.65,101.55L258.30,99.95Z" fill="#fff"/>
<path d="M259.65,104.00L261.00,105.60L259.65,107.20L258.30,105.60Z" fill="#fff"/>
<path d="M259.65,109.65L261.00,111.25L259.65,112.85L258.30,111.25Z" fill="#fff"/>
<path d="M259.65,115.30L261.00,116.90L259.65,118.50L258.30,116.90Z" fill="#fff"/>
<path d="M259.65,120.95L261.00,122.55L259.65,124.15L258.30,122.55Z" fill="#fff"/>
<path d="M259.65,126.60L261.00,128.20L259.65,129.80L258.30,128.20Z" fill="#fff"/>
<path d="M259.65,132.25L261.00,133.85L259.65,135.45L258.30,133.85Z" fill="#fff"/>
<path d="M259.65,137.90L261.00,139.50L259.65,141.10L258.30,139.50Z" fill="#fff"/>
<path d="M259.65,143.55L261.00,145.15L259.65,146.75L258.30,145.15Z" fill="#fff"/>
<path d="M259.65,149.20L261.00,150.80L259.65,152.40L258.30,150.80Z" fill="#fff"/>
<path d="M259.65,154.85L261.00,156.45L259.65,158.05L258.30,156.45Z" fill="#fff"/>
<path d="M262.50,45.00L263.85,46.60L262.50,48.20L261.15,46.60Z" fill="#fff"/>
<path d="M262.50,50.65L263.85,52.25L262.50,53.85L261.15,52.25Z" fill="#fff"/>
<path d="M262.50,56.30L263.85,57.90L262.50,59.50L261.15,57.90Z" fill="#fff"/>
<path d="M262.50,61.95L263.85,63.55L262.50,65.15L261.15,63.55Z" fill="#fff"/>
<path d="M262.50,67.60L263.85,69.20L262.50,70.80L261.15,69.20Z" fill="#fff"/>
<path d="M262.50,73.25L263.85,74.85L262.50,76.45L261.15,74.85Z" fill="#fff"/>
<path d="M262.50,78.90L263.85,80.50L262.50,82.10L261.15,80.50Z" fill="#fff"/>
<path d="M262.50,84.55L263.85,86.15L262.50,87.75L261.15,86.15Z" fill="#fff"/>
<path d="M262.50,90.20L263.85,91.80L262.50,93.40L261.15,91.80Z" fill="#fff"/>
<path d="M262.50,95.85L263.85,97.45L262.50,99.05L261.15,97.45Z" fill="#fff"/>
<path d="M262.50,101.50L263.85,103.10L262.50,104.70L261.15,103.10Z" fill="#fff"/>
<path d="M262.50,107.15L263.85,108.75L262.50,110.35L261.15,108.75Z" fill="#fff"/>
<path d="M262.50,112.80L263.85,114.40L262.50,116.00L261.15,114.40Z" fill="#fff"/>
<path d="M262.50,118.45L263.85,120.05L262.50,121.65L261.15,120.05Z" fill="#fff"/>
<path d="M262.50,124.10L263.85,125.70L262.50,127.30L261.15,125.70Z" fill="#fff"/>
<path d="M262.50,129.75L263.85,131.35L262.50,132.95L261.15,131.35Z" fill="#fff"/>
<path d="M262.50,135.40L263.85,137.00L262.50,138.60L261.15,137.00Z" fill="#fff"/>
<path d="M262.50,141.05L263.85,142.65L262.50,144.25L261.15,142.65Z" fill="#fff"/>
<path d="M262.50,146.70L263.85,148.30L262.50,149.90L261.15,148.30Z" fill="#fff"/>
<path d="M262.50,152.35L263.85,153.95L262.50,155.55L261.15,153.95Z" fill="#fff"/>
<path d="M265.35,41.85L266.70,43.45L265.35,45.05L264.00,43.45Z" fill="#fff"/>
<path d="M265.35,47.50L266.70,49.10L265.35,50.70L264.00,49.10Z" fill="#fff"/>
<path d="M265.35,53.15L266.70,54.75L265.35,56.35L264.00,54.75Z" fill="#fff"/>
<path d="M265.35,58.80L266.70,60.40L265.35,62.00L264.00,60.40Z" fill="#fff"/>
<path d="M265.35,64.45L266.70,66.05L265.35,67.65L264.00,66.05Z" fill="#fff"/>
<path d="M265.35,70.10L266.70,71.70L265.35,73.30L264.00,71.70Z" fill="#fff"/>
<path d="M265.35,75.75L266.70,77.35L265.35,78.95L264.00,77.35Z" fill="#fff"/>
<path d="M265.35,81.40L266.70,83.00L265.35,84.60L264.00,83.00Z" fill="#fff"/>
<path d="M265.35,87.05L266.70,88.65L265.35,90.25L264.00,88.65Z" fill="#fff"/>
<path d="M265.35,92.70L266.70,94.30L265.35,95.90L264.00,94.30Z" fill="#fff"/>
<path d="M265.35,98.35L266.70,99.95L265.35,101.55L264.00,99.95Z" fill="#fff"/>
<path d="M265.35,104.00L266.70,105.60L265.35,107.20L264.00,105.60Z" fill="#fff"/>
<path d="M265.35,109.65L266.70,111.25L265.35,112.85L264.00,111.25Z" fill="#fff"/>
<path d="M265.35,115.30L266.70,116.90L265.35,118.50L264.00,116.90Z" fill="#fff"/>
<path d="M265.35,120.95L266.70,122.55L265.35,124.15L264.00,122.55Z" fill="#fff"/>
<path d="M265.35,126.60L266.70,128.20L265.35,129.80L264.00,128.20Z" fill="#fff"/>
<path d="M265.35,132.25L266.70,133.85L265.35,135.45L264.00,133.85Z" fill="#fff"/>
<path d="M265.35,137.90L266.70,139.50L265.35,141.10L264.00,139.50Z" fill="#fff"/>
<path d="M265.35,143.55L266.70,145.15L265.35,146.75L264.00,145.15Z" fill="#fff"/>
<path d="M265.35,149.20L266.70,150.80L265.35,152.40L264.00,150.80Z" fill="#fff"/>
<path d="M265.35,154.85L266.70,156.45L265.35,158.05L264.00,156.45Z" fill="#fff"/>
<path d="M268.20,45.00L269.55,46.60L268.20,48.20L266.85,46.60Z" fill="#fff"/>
<path d="M268.20,50.65L269.55,52.25L268.20,53.85L266.85,52.25Z" fill="#fff"/>
<path d="M268.20,56.30L269.55,57.90L268.20,59.50L266.85,57.90Z" fill="#fff"/>
<path d="M268.20,61.95L269.55,63.55L268.20,65.15L266.85,63.55Z" fill="#fff"/>
<path d="M268.20,67.60L269.55,69.20L268.20,70.80L266.85,69.20Z" fill="#fff"/>
<path d="M268.20,73.25L269.55,74.85L268.20,76.45L266.85,74.85Z" fill="#fff"/>
<path d="M268.20,78.90L269.55,80.50L268.20,82.10L266.85,80.50Z" fill="#fff"/>
<path d="M268.20,84.55L269.55,86.15L268.20,87.75L266.85,86.15Z" fill="#fff"/>
<path d="M268.20,90.20L269.55,91.80L268.20,93.40L266.85,91.80Z" fill="#fff"/>
<path d="M268.20,95.85L269.55,97.45L268.20,99.05L266.85,97.45Z" fill="#fff"/>
<path d="M268.20,101.50L269.55,103.10L268.20,104.70L266.85,103.10Z" fill="#fff"/>
<path d="M268.20,107.15L269.55,108.75L268.20,110.35L266.85,108.75Z" fill="#fff"/>
<path d="M268.20,112.80L269.55,114.40L268.20,116.00L266.85,114.40Z" fill="#fff"/>
<path d="M268.20,118.45L269.55,120.05L268.20,121.65L266.85,120.05Z" fill="#fff"/>
<path d="M268.20,124.10L269.55,125.70L268.20,127.30L266.85,125.70Z" fill="#fff"/>
<path d="M268.20,129.75L269.55,131.35L268.20,132.95L266.85,131.35Z" fill="#fff"/>
<path d="M268.20,135.40L269.55,137.00L268.20,138.60L266.85,137.00Z" fill="#fff"/>
<path d="M268.20,141.05L269.55,142.65L268.20,144.25L266.85,142.65Z" fill="#fff"/>
<path d="M268.20,146.70L269.55,148.30L268.20,149.90L266.85,148.30Z" fill="#fff"/>
<path d="M268.20,152.35L269.55,153.95L268.20,155.55L266.85,153.95Z" fill="#fff"/>
<path d="M271.05,41.85L272.40,43.45L271.05,45.05L269.70,43.45Z" fill="#fff"/>
<path d="M271.05,47.50L272.40,49.10L271.05,50.70L269.70,49.10Z" fill="#fff"/>
<path d="M271.05,53.15L272.40,54.75L271.05,56.35L269.70,54.75Z" fill="#fff"/>
<path d="M271.05,58.80L272.40,60.40L271.05,62.00L269.70,60.40Z" fill="#fff"/>
<path d="M271.05,64.45L272.40,66.05L271.05,67.65L269.70,66.05Z" fill="#fff"/>
<path d="M271.05,70.10L272.40,71.70L271.05,73.30L269.70,71.70Z" fill="#fff"/>
<path d="M271.05,75.75L272.40,77.35L271.05,78.95L269.70,77.35Z" fill="#fff"/>
<path d="M271.05,81.40L272.40,83.00L271.05,84.60L269.70,83.00Z" fill="#fff"/>
<path d="M271.05,87.05L272.40,88.65L271.05,90.25L269.70,88.65Z" fill="#fff"/>
<path d="M271.05,92.70L272.40,94.30L271.05,95.90L269.70,94.30Z" fill="#fff"/>
<path d="M271.05,98.35L272.40,99.95L271.05,101.55L269.70,99.95Z" fill="#fff"/>
<path d="M271.05,104.00L272.40,105.60L271.05,107.20L269.70,105.60Z" fill="#fff"/>
<path d="M271.05,109.65L272.40,111.25L271.05,112.85L269.70,111.25Z" fill="#fff"/>
<path d="M271.05,115.30L272.40,116.90L271.05,118.50L269.70,116.90Z" fill="#fff"/>
<path d="M271.05,120.95L272.40,122.55L271.05,124.15L269.70,122.55Z" fill="#fff"/>
<path d="M271.05,126.60L272.40,128.20L271.05,129.80L269.70,128.20Z" fill="#fff"/>
<path d="M271.05,132.25L272.40,133.85L271.05,135.45L269.70,133.85Z" fill="#fff"/>
<path d="M271.05,137.90L272.40,139.50L271.05,141.10L269.70,139.50Z" fill="#fff"/>
<path d="M271.05,143.55L272.40,145.15L271.05,146.75L269.70,145.15Z" fill="#fff"/>
<path d="M271.05,149.20L272.40,150.80L271.05,152.40L269.70,150.80Z" fill="#fff"/>
<path d="M271.05,154.85L272.40,156.45L271.05,158.05L269.70,156.45Z" fill="#fff"/>
</g>
<rect x="259.50" y="51.40" width="7.00" height="96.30" fill="none" stroke="#111" stroke-width="1"/>
<line x1="281.00" y1="110.20" x2="281.00" y2="110.80" stroke="#111" stroke-width="1.1"/>
<line x1="278.40" y1="110.20" x2="283.60" y2="110.20" stroke="#111" stroke-width="1.1"/>
<rect x="277.50" y="110.80" width="7.00" height="36.90" fill="#fff" stroke="#111" stroke-width="1"/>
<line x1="292.00" y1="76.00" x2="292.00" y2="78.90" stroke="#111" stroke-width="1.1"/>
<line x1="289.40" y1="76.00" x2="294.60" y2="76.00" stroke="#111" stroke-width="1.1"/>
<rect x="288.00" y="78.40" width="8.00" height="69.80" fill="#111"/>
<line x1="303.00" y1="106.80" x2="303.00" y2="107.40" stroke="#111" stroke-width="1.1"/>
<line x1="300.40" y1="106.80" x2="305.60" y2="106.80" stroke="#111" stroke-width="1.1"/>
<clipPath id="c9"><rect x="299.00" y="106.90" width="8.00" height="41.30"/></clipPath>
<g clip-path="url(#c9)">
<rect x="299.00" y="106.90" width="8.00" height="41.30" fill="#fff"/>
<line x1="297.00" y1="166.40" x2="350.30" y2="113.10" stroke="#111" stroke-width="1.75"/>
<line x1="297.00" y1="161.00" x2="350.30" y2="107.70" stroke="#111" stroke-width="1.75"/>
<line x1="297.00" y1="155.60" x2="350.30" y2="102.30" stroke="#111" stroke-width="1.75"/>
<line x1="297.00" y1="150.20" x2="350.30" y2="96.90" stroke="#111" stroke-width="1.75"/>
<line x1="297.00" y1="144.80" x2="350.30" y2="91.50" stroke="#111" stroke-width="1.75"/>
<line x1="297.00" y1="139.40" x2="350.30" y2="86.10" stroke="#111" stroke-width="1.75"/>
<line x1="297.00" y1="134.00" x2="350.30" y2="80.70" stroke="#111" stroke-width="1.75"/>
<line x1="297.00" y1="128.60" x2="350.30" y2="75.30" stroke="#111" stroke-width="1.75"/>
<line x1="297.00" y1="123.20" x2="350.30" y2="69.90" stroke="#111" stroke-width="1.75"/>
<line x1="297.00" y1="117.80" x2="350.30" y2="64.50" stroke="#111" stroke-width="1.75"/>
<line x1="297.00" y1="112.40" x2="350.30" y2="59.10" stroke="#111" stroke-width="1.75"/>
<line x1="297.00" y1="107.00" x2="350.30" y2="53.70" stroke="#111" stroke-width="1.75"/>
<line x1="297.00" y1="101.60" x2="350.30" y2="48.30" stroke="#111" stroke-width="1.75"/>
</g>
<rect x="299.50" y="107.40" width="7.00" height="40.30" fill="none" stroke="#111" stroke-width="1"/>
<line x1="313.00" y1="66.70" x2="313.00" y2="69.40" stroke="#111" stroke-width="1.1"/>
<line x1="310.40" y1="66.70" x2="315.60" y2="66.70" stroke="#111" stroke-width="1.1"/>
<clipPath id="c10"><rect x="309.00" y="68.90" width="8.00" height="79.30"/></clipPath>
<g clip-path="url(#c10)">
<rect x="309.00" y="68.90" width="8.00" height="79.30" fill="#fff"/>
<line x1="307.00" y1="166.40" x2="398.30" y2="75.10" stroke="#111" stroke-width="2.05"/>
<line x1="307.00" y1="161.00" x2="398.30" y2="69.70" stroke="#111" stroke-width="2.05"/>
<line x1="307.00" y1="155.60" x2="398.30" y2="64.30" stroke="#111" stroke-width="2.05"/>
<line x1="307.00" y1="150.20" x2="398.30" y2="58.90" stroke="#111" stroke-width="2.05"/>
<line x1="307.00" y1="144.80" x2="398.30" y2="53.50" stroke="#111" stroke-width="2.05"/>
<line x1="307.00" y1="139.40" x2="398.30" y2="48.10" stroke="#111" stroke-width="2.05"/>
<line x1="307.00" y1="134.00" x2="398.30" y2="42.70" stroke="#111" stroke-width="2.05"/>
<line x1="307.00" y1="128.60" x2="398.30" y2="37.30" stroke="#111" stroke-width="2.05"/>
<line x1="307.00" y1="123.20" x2="398.30" y2="31.90" stroke="#111" stroke-width="2.05"/>
<line x1="307.00" y1="117.80" x2="398.30" y2="26.50" stroke="#111" stroke-width="2.05"/>
<line x1="307.00" y1="112.40" x2="398.30" y2="21.10" stroke="#111" stroke-width="2.05"/>
<line x1="307.00" y1="107.00" x2="398.30" y2="15.70" stroke="#111" stroke-width="2.05"/>
<line x1="307.00" y1="101.60" x2="398.30" y2="10.30" stroke="#111" stroke-width="2.05"/>
<line x1="307.00" y1="96.20" x2="398.30" y2="4.90" stroke="#111" stroke-width="2.05"/>
<line x1="307.00" y1="90.80" x2="398.30" y2="-0.50" stroke="#111" stroke-width="2.05"/>
<line x1="307.00" y1="85.40" x2="398.30" y2="-5.90" stroke="#111" stroke-width="2.05"/>
<line x1="307.00" y1="80.00" x2="398.30" y2="-11.30" stroke="#111" stroke-width="2.05"/>
<line x1="307.00" y1="74.60" x2="398.30" y2="-16.70" stroke="#111" stroke-width="2.05"/>
<line x1="307.00" y1="69.20" x2="398.30" y2="-22.10" stroke="#111" stroke-width="2.05"/>
<line x1="307.00" y1="63.80" x2="398.30" y2="-27.50" stroke="#111" stroke-width="2.05"/>
</g>
<rect x="309.50" y="69.40" width="7.00" height="78.30" fill="none" stroke="#111" stroke-width="1"/>
<line x1="324.00" y1="43.20" x2="324.00" y2="46.30" stroke="#111" stroke-width="1.1"/>
<line x1="321.40" y1="43.20" x2="326.60" y2="43.20" stroke="#111" stroke-width="1.1"/>
<clipPath id="c11"><rect x="320.00" y="45.80" width="8.00" height="102.40"/></clipPath>
<g clip-path="url(#c11)">
<rect x="320.00" y="45.80" width="8.00" height="102.40" fill="#fff"/>
<line x1="317.55" y1="2.40" x2="331.80" y2="16.52" stroke="#444" stroke-width="0.55"/>
<line x1="317.55" y1="8.05" x2="331.80" y2="22.17" stroke="#444" stroke-width="0.55"/>
<line x1="317.55" y1="13.70" x2="331.80" y2="27.82" stroke="#444" stroke-width="0.55"/>
<line x1="317.55" y1="19.35" x2="331.80" y2="33.47" stroke="#444" stroke-width="0.55"/>
<line x1="317.55" y1="25.00" x2="331.80" y2="39.12" stroke="#444" stroke-width="0.55"/>
<line x1="317.55" y1="30.65" x2="331.80" y2="44.77" stroke="#444" stroke-width="0.55"/>
<line x1="317.55" y1="36.30" x2="331.80" y2="50.42" stroke="#444" stroke-width="0.55"/>
<line x1="317.55" y1="41.95" x2="331.80" y2="56.07" stroke="#444" stroke-width="0.55"/>
<line x1="317.55" y1="47.60" x2="331.80" y2="61.72" stroke="#444" stroke-width="0.55"/>
<line x1="317.55" y1="53.25" x2="331.80" y2="67.38" stroke="#444" stroke-width="0.55"/>
<line x1="317.55" y1="58.90" x2="331.80" y2="73.03" stroke="#444" stroke-width="0.55"/>
<line x1="317.55" y1="64.55" x2="331.80" y2="78.67" stroke="#444" stroke-width="0.55"/>
<line x1="317.55" y1="70.20" x2="331.80" y2="84.32" stroke="#444" stroke-width="0.55"/>
<line x1="317.55" y1="75.85" x2="331.80" y2="89.97" stroke="#444" stroke-width="0.55"/>
<line x1="317.55" y1="81.50" x2="331.80" y2="95.62" stroke="#444" stroke-width="0.55"/>
<line x1="317.55" y1="87.15" x2="331.80" y2="101.28" stroke="#444" stroke-width="0.55"/>
<line x1="317.55" y1="92.80" x2="331.80" y2="106.92" stroke="#444" stroke-width="0.55"/>
<line x1="317.55" y1="98.45" x2="331.80" y2="112.58" stroke="#444" stroke-width="0.55"/>
<line x1="317.55" y1="104.10" x2="331.80" y2="118.22" stroke="#444" stroke-width="0.55"/>
<line x1="317.55" y1="109.75" x2="331.80" y2="123.88" stroke="#444" stroke-width="0.55"/>
<line x1="317.55" y1="115.40" x2="331.80" y2="129.53" stroke="#444" stroke-width="0.55"/>
<line x1="317.55" y1="121.05" x2="331.80" y2="135.18" stroke="#444" stroke-width="0.55"/>
<line x1="317.55" y1="126.70" x2="331.80" y2="140.83" stroke="#444" stroke-width="0.55"/>
<line x1="317.55" y1="132.35" x2="331.80" y2="146.47" stroke="#444" stroke-width="0.55"/>
<line x1="317.55" y1="138.00" x2="331.80" y2="152.12" stroke="#444" stroke-width="0.55"/>
<line x1="317.55" y1="143.65" x2="331.80" y2="157.78" stroke="#444" stroke-width="0.55"/>
<line x1="317.55" y1="149.30" x2="331.80" y2="163.43" stroke="#444" stroke-width="0.55"/>
<line x1="317.55" y1="154.95" x2="331.80" y2="169.07" stroke="#444" stroke-width="0.55"/>
<line x1="317.55" y1="160.60" x2="331.80" y2="174.72" stroke="#444" stroke-width="0.55"/>
<line x1="317.55" y1="166.25" x2="331.80" y2="180.38" stroke="#444" stroke-width="0.55"/>
<line x1="317.55" y1="171.90" x2="331.80" y2="186.03" stroke="#444" stroke-width="0.55"/>
<line x1="317.55" y1="177.55" x2="331.80" y2="191.68" stroke="#444" stroke-width="0.55"/>
<line x1="317.55" y1="183.20" x2="331.80" y2="197.32" stroke="#444" stroke-width="0.55"/>
<line x1="317.55" y1="188.85" x2="331.80" y2="202.98" stroke="#444" stroke-width="0.55"/>
<line x1="317.55" y1="2.40" x2="331.80" y2="-11.73" stroke="#444" stroke-width="0.55"/>
<line x1="317.55" y1="8.05" x2="331.80" y2="-6.08" stroke="#444" stroke-width="0.55"/>
<line x1="317.55" y1="13.70" x2="331.80" y2="-0.43" stroke="#444" stroke-width="0.55"/>
<line x1="317.55" y1="19.35" x2="331.80" y2="5.22" stroke="#444" stroke-width="0.55"/>
<line x1="317.55" y1="25.00" x2="331.80" y2="10.87" stroke="#444" stroke-width="0.55"/>
<line x1="317.55" y1="30.65" x2="331.80" y2="16.52" stroke="#444" stroke-width="0.55"/>
<line x1="317.55" y1="36.30" x2="331.80" y2="22.17" stroke="#444" stroke-width="0.55"/>
<line x1="317.55" y1="41.95" x2="331.80" y2="27.82" stroke="#444" stroke-width="0.55"/>
<line x1="317.55" y1="47.60" x2="331.80" y2="33.47" stroke="#444" stroke-width="0.55"/>
<line x1="317.55" y1="53.25" x2="331.80" y2="39.12" stroke="#444" stroke-width="0.55"/>
<line x1="317.55" y1="58.90" x2="331.80" y2="44.77" stroke="#444" stroke-width="0.55"/>
<line x1="317.55" y1="64.55" x2="331.80" y2="50.42" stroke="#444" stroke-width="0.55"/>
<line x1="317.55" y1="70.20" x2="331.80" y2="56.07" stroke="#444" stroke-width="0.55"/>
<line x1="317.55" y1="75.85" x2="331.80" y2="61.72" stroke="#444" stroke-width="0.55"/>
<line x1="317.55" y1="81.50" x2="331.80" y2="67.38" stroke="#444" stroke-width="0.55"/>
<line x1="317.55" y1="87.15" x2="331.80" y2="73.03" stroke="#444" stroke-width="0.55"/>
<line x1="317.55" y1="92.80" x2="331.80" y2="78.67" stroke="#444" stroke-width="0.55"/>
<line x1="317.55" y1="98.45" x2="331.80" y2="84.33" stroke="#444" stroke-width="0.55"/>
<line x1="317.55" y1="104.10" x2="331.80" y2="89.97" stroke="#444" stroke-width="0.55"/>
<line x1="317.55" y1="109.75" x2="331.80" y2="95.62" stroke="#444" stroke-width="0.55"/>
<line x1="317.55" y1="115.40" x2="331.80" y2="101.28" stroke="#444" stroke-width="0.55"/>
<line x1="317.55" y1="121.05" x2="331.80" y2="106.92" stroke="#444" stroke-width="0.55"/>
<line x1="317.55" y1="126.70" x2="331.80" y2="112.58" stroke="#444" stroke-width="0.55"/>
<line x1="317.55" y1="132.35" x2="331.80" y2="118.22" stroke="#444" stroke-width="0.55"/>
<line x1="317.55" y1="138.00" x2="331.80" y2="123.88" stroke="#444" stroke-width="0.55"/>
<line x1="317.55" y1="143.65" x2="331.80" y2="129.53" stroke="#444" stroke-width="0.55"/>
<line x1="317.55" y1="149.30" x2="331.80" y2="135.18" stroke="#444" stroke-width="0.55"/>
<line x1="317.55" y1="154.95" x2="331.80" y2="140.82" stroke="#444" stroke-width="0.55"/>
<line x1="317.55" y1="160.60" x2="331.80" y2="146.47" stroke="#444" stroke-width="0.55"/>
<line x1="317.55" y1="166.25" x2="331.80" y2="152.12" stroke="#444" stroke-width="0.55"/>
<line x1="317.55" y1="171.90" x2="331.80" y2="157.78" stroke="#444" stroke-width="0.55"/>
<line x1="317.55" y1="177.55" x2="331.80" y2="163.43" stroke="#444" stroke-width="0.55"/>
<line x1="317.55" y1="183.20" x2="331.80" y2="169.07" stroke="#444" stroke-width="0.55"/>
<line x1="317.55" y1="188.85" x2="331.80" y2="174.73" stroke="#444" stroke-width="0.55"/>
<circle cx="317.55" cy="41.95" r="1.2" fill="#111"/>
<circle cx="317.55" cy="47.60" r="1.2" fill="#111"/>
<circle cx="317.55" cy="53.25" r="1.2" fill="#111"/>
<circle cx="317.55" cy="58.90" r="1.2" fill="#111"/>
<circle cx="317.55" cy="64.55" r="1.2" fill="#111"/>
<circle cx="317.55" cy="70.20" r="1.2" fill="#111"/>
<circle cx="317.55" cy="75.85" r="1.2" fill="#111"/>
<circle cx="317.55" cy="81.50" r="1.2" fill="#111"/>
<circle cx="317.55" cy="87.15" r="1.2" fill="#111"/>
<circle cx="317.55" cy="92.80" r="1.2" fill="#111"/>
<circle cx="317.55" cy="98.45" r="1.2" fill="#111"/>
<circle cx="317.55" cy="104.10" r="1.2" fill="#111"/>
<circle cx="317.55" cy="109.75" r="1.2" fill="#111"/>
<circle cx="317.55" cy="115.40" r="1.2" fill="#111"/>
<circle cx="317.55" cy="121.05" r="1.2" fill="#111"/>
<circle cx="317.55" cy="126.70" r="1.2" fill="#111"/>
<circle cx="317.55" cy="132.35" r="1.2" fill="#111"/>
<circle cx="317.55" cy="138.00" r="1.2" fill="#111"/>
<circle cx="317.55" cy="143.65" r="1.2" fill="#111"/>
<circle cx="317.55" cy="149.30" r="1.2" fill="#111"/>
<circle cx="317.55" cy="154.95" r="1.2" fill="#111"/>
<circle cx="320.40" cy="39.20" r="1.2" fill="#111"/>
<circle cx="320.40" cy="44.85" r="1.2" fill="#111"/>
<circle cx="320.40" cy="50.50" r="1.2" fill="#111"/>
<circle cx="320.40" cy="56.15" r="1.2" fill="#111"/>
<circle cx="320.40" cy="61.80" r="1.2" fill="#111"/>
<circle cx="320.40" cy="67.45" r="1.2" fill="#111"/>
<circle cx="320.40" cy="73.10" r="1.2" fill="#111"/>
<circle cx="320.40" cy="78.75" r="1.2" fill="#111"/>
<circle cx="320.40" cy="84.40" r="1.2" fill="#111"/>
<circle cx="320.40" cy="90.05" r="1.2" fill="#111"/>
<circle cx="320.40" cy="95.70" r="1.2" fill="#111"/>
<circle cx="320.40" cy="101.35" r="1.2" fill="#111"/>
<circle cx="320.40" cy="107.00" r="1.2" fill="#111"/>
<circle cx="320.40" cy="112.65" r="1.2" fill="#111"/>
<circle cx="320.40" cy="118.30" r="1.2" fill="#111"/>
<circle cx="320.40" cy="123.95" r="1.2" fill="#111"/>
<circle cx="320.40" cy="129.60" r="1.2" fill="#111"/>
<circle cx="320.40" cy="135.25" r="1.2" fill="#111"/>
<circle cx="320.40" cy="140.90" r="1.2" fill="#111"/>
<circle cx="320.40" cy="146.55" r="1.2" fill="#111"/>
<circle cx="320.40" cy="152.20" r="1.2" fill="#111"/>
<circle cx="323.25" cy="41.95" r="1.2" fill="#111"/>
<circle cx="323.25" cy="47.60" r="1.2" fill="#111"/>
<circle cx="323.25" cy="53.25" r="1.2" fill="#111"/>
<circle cx="323.25" cy="58.90" r="1.2" fill="#111"/>
<circle cx="323.25" cy="64.55" r="1.2" fill="#111"/>
<circle cx="323.25" cy="70.20" r="1.2" fill="#111"/>
<circle cx="323.25" cy="75.85" r="1.2" fill="#111"/>
<circle cx="323.25" cy="81.50" r="1.2" fill="#111"/>
<circle cx="323.25" cy="87.15" r="1.2" fill="#111"/>
<circle cx="323.25" cy="92.80" r="1.2" fill="#111"/>
<circle cx="323.25" cy="98.45" r="1.2" fill="#111"/>
<circle cx="323.25" cy="104.10" r="1.2" fill="#111"/>
<circle cx="323.25" cy="109.75" r="1.2" fill="#111"/>
<circle cx="323.25" cy="115.40" r="1.2" fill="#111"/>
<circle cx="323.25" cy="121.05" r="1.2" fill="#111"/>
<circle cx="323.25" cy="126.70" r="1.2" fill="#111"/>
<circle cx="323.25" cy="132.35" r="1.2" fill="#111"/>
<circle cx="323.25" cy="138.00" r="1.2" fill="#111"/>
<circle cx="323.25" cy="143.65" r="1.2" fill="#111"/>
<circle cx="323.25" cy="149.30" r="1.2" fill="#111"/>
<circle cx="323.25" cy="154.95" r="1.2" fill="#111"/>
<circle cx="326.10" cy="39.20" r="1.2" fill="#111"/>
<circle cx="326.10" cy="44.85" r="1.2" fill="#111"/>
<circle cx="326.10" cy="50.50" r="1.2" fill="#111"/>
<circle cx="326.10" cy="56.15" r="1.2" fill="#111"/>
<circle cx="326.10" cy="61.80" r="1.2" fill="#111"/>
<circle cx="326.10" cy="67.45" r="1.2" fill="#111"/>
<circle cx="326.10" cy="73.10" r="1.2" fill="#111"/>
<circle cx="326.10" cy="78.75" r="1.2" fill="#111"/>
<circle cx="326.10" cy="84.40" r="1.2" fill="#111"/>
<circle cx="326.10" cy="90.05" r="1.2" fill="#111"/>
<circle cx="326.10" cy="95.70" r="1.2" fill="#111"/>
<circle cx="326.10" cy="101.35" r="1.2" fill="#111"/>
<circle cx="326.10" cy="107.00" r="1.2" fill="#111"/>
<circle cx="326.10" cy="112.65" r="1.2" fill="#111"/>
<circle cx="326.10" cy="118.30" r="1.2" fill="#111"/>
<circle cx="326.10" cy="123.95" r="1.2" fill="#111"/>
<circle cx="326.10" cy="129.60" r="1.2" fill="#111"/>
<circle cx="326.10" cy="135.25" r="1.2" fill="#111"/>
<circle cx="326.10" cy="140.90" r="1.2" fill="#111"/>
<circle cx="326.10" cy="146.55" r="1.2" fill="#111"/>
<circle cx="326.10" cy="152.20" r="1.2" fill="#111"/>
<circle cx="328.95" cy="41.95" r="1.2" fill="#111"/>
<circle cx="328.95" cy="47.60" r="1.2" fill="#111"/>
<circle cx="328.95" cy="53.25" r="1.2" fill="#111"/>
<circle cx="328.95" cy="58.90" r="1.2" fill="#111"/>
<circle cx="328.95" cy="64.55" r="1.2" fill="#111"/>
<circle cx="328.95" cy="70.20" r="1.2" fill="#111"/>
<circle cx="328.95" cy="75.85" r="1.2" fill="#111"/>
<circle cx="328.95" cy="81.50" r="1.2" fill="#111"/>
<circle cx="328.95" cy="87.15" r="1.2" fill="#111"/>
<circle cx="328.95" cy="92.80" r="1.2" fill="#111"/>
<circle cx="328.95" cy="98.45" r="1.2" fill="#111"/>
<circle cx="328.95" cy="104.10" r="1.2" fill="#111"/>
<circle cx="328.95" cy="109.75" r="1.2" fill="#111"/>
<circle cx="328.95" cy="115.40" r="1.2" fill="#111"/>
<circle cx="328.95" cy="121.05" r="1.2" fill="#111"/>
<circle cx="328.95" cy="126.70" r="1.2" fill="#111"/>
<circle cx="328.95" cy="132.35" r="1.2" fill="#111"/>
<circle cx="328.95" cy="138.00" r="1.2" fill="#111"/>
<circle cx="328.95" cy="143.65" r="1.2" fill="#111"/>
<circle cx="328.95" cy="149.30" r="1.2" fill="#111"/>
<circle cx="328.95" cy="154.95" r="1.2" fill="#111"/>
<circle cx="331.80" cy="39.20" r="1.2" fill="#111"/>
<circle cx="331.80" cy="44.85" r="1.2" fill="#111"/>
<circle cx="331.80" cy="50.50" r="1.2" fill="#111"/>
<circle cx="331.80" cy="56.15" r="1.2" fill="#111"/>
<circle cx="331.80" cy="61.80" r="1.2" fill="#111"/>
<circle cx="331.80" cy="67.45" r="1.2" fill="#111"/>
<circle cx="331.80" cy="73.10" r="1.2" fill="#111"/>
<circle cx="331.80" cy="78.75" r="1.2" fill="#111"/>
<circle cx="331.80" cy="84.40" r="1.2" fill="#111"/>
<circle cx="331.80" cy="90.05" r="1.2" fill="#111"/>
<circle cx="331.80" cy="95.70" r="1.2" fill="#111"/>
<circle cx="331.80" cy="101.35" r="1.2" fill="#111"/>
<circle cx="331.80" cy="107.00" r="1.2" fill="#111"/>
<circle cx="331.80" cy="112.65" r="1.2" fill="#111"/>
<circle cx="331.80" cy="118.30" r="1.2" fill="#111"/>
<circle cx="331.80" cy="123.95" r="1.2" fill="#111"/>
<circle cx="331.80" cy="129.60" r="1.2" fill="#111"/>
<circle cx="331.80" cy="135.25" r="1.2" fill="#111"/>
<circle cx="331.80" cy="140.90" r="1.2" fill="#111"/>
<circle cx="331.80" cy="146.55" r="1.2" fill="#111"/>
<circle cx="331.80" cy="152.20" r="1.2" fill="#111"/>
</g>
<rect x="320.50" y="46.30" width="7.00" height="101.40" fill="none" stroke="#111" stroke-width="1"/>
<line x1="334.00" y1="28.50" x2="334.00" y2="31.40" stroke="#111" stroke-width="1.1"/>
<line x1="331.40" y1="28.50" x2="336.60" y2="28.50" stroke="#111" stroke-width="1.1"/>
<clipPath id="c12"><rect x="330.00" y="30.90" width="8.00" height="117.30"/></clipPath>
<g clip-path="url(#c12)">
<rect x="330.00" y="30.90" width="8.00" height="117.30" fill="#111"/>
<path d="M325.20,22.40L326.55,24.00L325.20,25.60L323.85,24.00Z" fill="#fff"/>
<path d="M325.20,28.05L326.55,29.65L325.20,31.25L323.85,29.65Z" fill="#fff"/>
<path d="M325.20,33.70L326.55,35.30L325.20,36.90L323.85,35.30Z" fill="#fff"/>
<path d="M325.20,39.35L326.55,40.95L325.20,42.55L323.85,40.95Z" fill="#fff"/>
<path d="M325.20,45.00L326.55,46.60L325.20,48.20L323.85,46.60Z" fill="#fff"/>
<path d="M325.20,50.65L326.55,52.25L325.20,53.85L323.85,52.25Z" fill="#fff"/>
<path d="M325.20,56.30L326.55,57.90L325.20,59.50L323.85,57.90Z" fill="#fff"/>
<path d="M325.20,61.95L326.55,63.55L325.20,65.15L323.85,63.55Z" fill="#fff"/>
<path d="M325.20,67.60L326.55,69.20L325.20,70.80L323.85,69.20Z" fill="#fff"/>
<path d="M325.20,73.25L326.55,74.85L325.20,76.45L323.85,74.85Z" fill="#fff"/>
<path d="M325.20,78.90L326.55,80.50L325.20,82.10L323.85,80.50Z" fill="#fff"/>
<path d="M325.20,84.55L326.55,86.15L325.20,87.75L323.85,86.15Z" fill="#fff"/>
<path d="M325.20,90.20L326.55,91.80L325.20,93.40L323.85,91.80Z" fill="#fff"/>
<path d="M325.20,95.85L326.55,97.45L325.20,99.05L323.85,97.45Z" fill="#fff"/>
<path d="M325.20,101.50L326.55,103.10L325.20,104.70L323.85,103.10Z" fill="#fff"/>
<path d="M325.20,107.15L326.55,108.75L325.20,110.35L323.85,108.75Z" fill="#fff"/>
<path d="M325.20,112.80L326.55,114.40L325.20,116.00L323.85,114.40Z" fill="#fff"/>
<path d="M325.20,118.45L326.55,120.05L325.20,121.65L323.85,120.05Z" fill="#fff"/>
<path d="M325.20,124.10L326.55,125.70L325.20,127.30L323.85,125.70Z" fill="#fff"/>
<path d="M325.20,129.75L326.55,131.35L325.20,132.95L323.85,131.35Z" fill="#fff"/>
<path d="M325.20,135.40L326.55,137.00L325.20,138.60L323.85,137.00Z" fill="#fff"/>
<path d="M325.20,141.05L326.55,142.65L325.20,144.25L323.85,142.65Z" fill="#fff"/>
<path d="M325.20,146.70L326.55,148.30L325.20,149.90L323.85,148.30Z" fill="#fff"/>
<path d="M325.20,152.35L326.55,153.95L325.20,155.55L323.85,153.95Z" fill="#fff"/>
<path d="M328.05,24.90L329.40,26.50L328.05,28.10L326.70,26.50Z" fill="#fff"/>
<path d="M328.05,30.55L329.40,32.15L328.05,33.75L326.70,32.15Z" fill="#fff"/>
<path d="M328.05,36.20L329.40,37.80L328.05,39.40L326.70,37.80Z" fill="#fff"/>
<path d="M328.05,41.85L329.40,43.45L328.05,45.05L326.70,43.45Z" fill="#fff"/>
<path d="M328.05,47.50L329.40,49.10L328.05,50.70L326.70,49.10Z" fill="#fff"/>
<path d="M328.05,53.15L329.40,54.75L328.05,56.35L326.70,54.75Z" fill="#fff"/>
<path d="M328.05,58.80L329.40,60.40L328.05,62.00L326.70,60.40Z" fill="#fff"/>
<path d="M328.05,64.45L329.40,66.05L328.05,67.65L326.70,66.05Z" fill="#fff"/>
<path d="M328.05,70.10L329.40,71.70L328.05,73.30L326.70,71.70Z" fill="#fff"/>
<path d="M328.05,75.75L329.40,77.35L328.05,78.95L326.70,77.35Z" fill="#fff"/>
<path d="M328.05,81.40L329.40,83.00L328.05,84.60L326.70,83.00Z" fill="#fff"/>
<path d="M328.05,87.05L329.40,88.65L328.05,90.25L326.70,88.65Z" fill="#fff"/>
<path d="M328.05,92.70L329.40,94.30L328.05,95.90L326.70,94.30Z" fill="#fff"/>
<path d="M328.05,98.35L329.40,99.95L328.05,101.55L326.70,99.95Z" fill="#fff"/>
<path d="M328.05,104.00L329.40,105.60L328.05,107.20L326.70,105.60Z" fill="#fff"/>
<path d="M328.05,109.65L329.40,111.25L328.05,112.85L326.70,111.25Z" fill="#fff"/>
<path d="M328.05,115.30L329.40,116.90L328.05,118.50L326.70,116.90Z" fill="#fff"/>
<path d="M328.05,120.95L329.40,122.55L328.05,124.15L326.70,122.55Z" fill="#fff"/>
<path d="M328.05,126.60L329.40,128.20L328.05,129.80L326.70,128.20Z" fill="#fff"/>
<path d="M328.05,132.25L329.40,133.85L328.05,135.45L326.70,133.85Z" fill="#fff"/>
<path d="M328.05,137.90L329.40,139.50L328.05,141.10L326.70,139.50Z" fill="#fff"/>
<path d="M328.05,143.55L329.40,145.15L328.05,146.75L326.70,145.15Z" fill="#fff"/>
<path d="M328.05,149.20L329.40,150.80L328.05,152.40L326.70,150.80Z" fill="#fff"/>
<path d="M328.05,154.85L329.40,156.45L328.05,158.05L326.70,156.45Z" fill="#fff"/>
<path d="M330.90,22.40L332.25,24.00L330.90,25.60L329.55,24.00Z" fill="#fff"/>
<path d="M330.90,28.05L332.25,29.65L330.90,31.25L329.55,29.65Z" fill="#fff"/>
<path d="M330.90,33.70L332.25,35.30L330.90,36.90L329.55,35.30Z" fill="#fff"/>
<path d="M330.90,39.35L332.25,40.95L330.90,42.55L329.55,40.95Z" fill="#fff"/>
<path d="M330.90,45.00L332.25,46.60L330.90,48.20L329.55,46.60Z" fill="#fff"/>
<path d="M330.90,50.65L332.25,52.25L330.90,53.85L329.55,52.25Z" fill="#fff"/>
<path d="M330.90,56.30L332.25,57.90L330.90,59.50L329.55,57.90Z" fill="#fff"/>
<path d="M330.90,61.95L332.25,63.55L330.90,65.15L329.55,63.55Z" fill="#fff"/>
<path d="M330.90,67.60L332.25,69.20L330.90,70.80L329.55,69.20Z" fill="#fff"/>
<path d="M330.90,73.25L332.25,74.85L330.90,76.45L329.55,74.85Z" fill="#fff"/>
<path d="M330.90,78.90L332.25,80.50L330.90,82.10L329.55,80.50Z" fill="#fff"/>
<path d="M330.90,84.55L332.25,86.15L330.90,87.75L329.55,86.15Z" fill="#fff"/>
<path d="M330.90,90.20L332.25,91.80L330.90,93.40L329.55,91.80Z" fill="#fff"/>
<path d="M330.90,95.85L332.25,97.45L330.90,99.05L329.55,97.45Z" fill="#fff"/>
<path d="M330.90,101.50L332.25,103.10L330.90,104.70L329.55,103.10Z" fill="#fff"/>
<path d="M330.90,107.15L332.25,108.75L330.90,110.35L329.55,108.75Z" fill="#fff"/>
<path d="M330.90,112.80L332.25,114.40L330.90,116.00L329.55,114.40Z" fill="#fff"/>
<path d="M330.90,118.45L332.25,120.05L330.90,121.65L329.55,120.05Z" fill="#fff"/>
<path d="M330.90,124.10L332.25,125.70L330.90,127.30L329.55,125.70Z" fill="#fff"/>
<path d="M330.90,129.75L332.25,131.35L330.90,132.95L329.55,131.35Z" fill="#fff"/>
<path d="M330.90,135.40L332.25,137.00L330.90,138.60L329.55,137.00Z" fill="#fff"/>
<path d="M330.90,141.05L332.25,142.65L330.90,144.25L329.55,142.65Z" fill="#fff"/>
<path d="M330.90,146.70L332.25,148.30L330.90,149.90L329.55,148.30Z" fill="#fff"/>
<path d="M330.90,152.35L332.25,153.95L330.90,155.55L329.55,153.95Z" fill="#fff"/>
<path d="M333.75,24.90L335.10,26.50L333.75,28.10L332.40,26.50Z" fill="#fff"/>
<path d="M333.75,30.55L335.10,32.15L333.75,33.75L332.40,32.15Z" fill="#fff"/>
<path d="M333.75,36.20L335.10,37.80L333.75,39.40L332.40,37.80Z" fill="#fff"/>
<path d="M333.75,41.85L335.10,43.45L333.75,45.05L332.40,43.45Z" fill="#fff"/>
<path d="M333.75,47.50L335.10,49.10L333.75,50.70L332.40,49.10Z" fill="#fff"/>
<path d="M333.75,53.15L335.10,54.75L333.75,56.35L332.40,54.75Z" fill="#fff"/>
<path d="M333.75,58.80L335.10,60.40L333.75,62.00L332.40,60.40Z" fill="#fff"/>
<path d="M333.75,64.45L335.10,66.05L333.75,67.65L332.40,66.05Z" fill="#fff"/>
<path d="M333.75,70.10L335.10,71.70L333.75,73.30L332.40,71.70Z" fill="#fff"/>
<path d="M333.75,75.75L335.10,77.35L333.75,78.95L332.40,77.35Z" fill="#fff"/>
<path d="M333.75,81.40L335.10,83.00L333.75,84.60L332.40,83.00Z" fill="#fff"/>
<path d="M333.75,87.05L335.10,88.65L333.75,90.25L332.40,88.65Z" fill="#fff"/>
<path d="M333.75,92.70L335.10,94.30L333.75,95.90L332.40,94.30Z" fill="#fff"/>
<path d="M333.75,98.35L335.10,99.95L333.75,101.55L332.40,99.95Z" fill="#fff"/>
<path d="M333.75,104.00L335.10,105.60L333.75,107.20L332.40,105.60Z" fill="#fff"/>
<path d="M333.75,109.65L335.10,111.25L333.75,112.85L332.40,111.25Z" fill="#fff"/>
<path d="M333.75,115.30L335.10,116.90L333.75,118.50L332.40,116.90Z" fill="#fff"/>
<path d="M333.75,120.95L335.10,122.55L333.75,124.15L332.40,122.55Z" fill="#fff"/>
<path d="M333.75,126.60L335.10,128.20L333.75,129.80L332.40,128.20Z" fill="#fff"/>
<path d="M333.75,132.25L335.10,133.85L333.75,135.45L332.40,133.85Z" fill="#fff"/>
<path d="M333.75,137.90L335.10,139.50L333.75,141.10L332.40,139.50Z" fill="#fff"/>
<path d="M333.75,143.55L335.10,145.15L333.75,146.75L332.40,145.15Z" fill="#fff"/>
<path d="M333.75,149.20L335.10,150.80L333.75,152.40L332.40,150.80Z" fill="#fff"/>
<path d="M333.75,154.85L335.10,156.45L333.75,158.05L332.40,156.45Z" fill="#fff"/>
<path d="M336.60,22.40L337.95,24.00L336.60,25.60L335.25,24.00Z" fill="#fff"/>
<path d="M336.60,28.05L337.95,29.65L336.60,31.25L335.25,29.65Z" fill="#fff"/>
<path d="M336.60,33.70L337.95,35.30L336.60,36.90L335.25,35.30Z" fill="#fff"/>
<path d="M336.60,39.35L337.95,40.95L336.60,42.55L335.25,40.95Z" fill="#fff"/>
<path d="M336.60,45.00L337.95,46.60L336.60,48.20L335.25,46.60Z" fill="#fff"/>
<path d="M336.60,50.65L337.95,52.25L336.60,53.85L335.25,52.25Z" fill="#fff"/>
<path d="M336.60,56.30L337.95,57.90L336.60,59.50L335.25,57.90Z" fill="#fff"/>
<path d="M336.60,61.95L337.95,63.55L336.60,65.15L335.25,63.55Z" fill="#fff"/>
<path d="M336.60,67.60L337.95,69.20L336.60,70.80L335.25,69.20Z" fill="#fff"/>
<path d="M336.60,73.25L337.95,74.85L336.60,76.45L335.25,74.85Z" fill="#fff"/>
<path d="M336.60,78.90L337.95,80.50L336.60,82.10L335.25,80.50Z" fill="#fff"/>
<path d="M336.60,84.55L337.95,86.15L336.60,87.75L335.25,86.15Z" fill="#fff"/>
<path d="M336.60,90.20L337.95,91.80L336.60,93.40L335.25,91.80Z" fill="#fff"/>
<path d="M336.60,95.85L337.95,97.45L336.60,99.05L335.25,97.45Z" fill="#fff"/>
<path d="M336.60,101.50L337.95,103.10L336.60,104.70L335.25,103.10Z" fill="#fff"/>
<path d="M336.60,107.15L337.95,108.75L336.60,110.35L335.25,108.75Z" fill="#fff"/>
<path d="M336.60,112.80L337.95,114.40L336.60,116.00L335.25,114.40Z" fill="#fff"/>
<path d="M336.60,118.45L337.95,120.05L336.60,121.65L335.25,120.05Z" fill="#fff"/>
<path d="M336.60,124.10L337.95,125.70L336.60,127.30L335.25,125.70Z" fill="#fff"/>
<path d="M336.60,129.75L337.95,131.35L336.60,132.95L335.25,131.35Z" fill="#fff"/>
<path d="M336.60,135.40L337.95,137.00L336.60,138.60L335.25,137.00Z" fill="#fff"/>
<path d="M336.60,141.05L337.95,142.65L336.60,144.25L335.25,142.65Z" fill="#fff"/>
<path d="M336.60,146.70L337.95,148.30L336.60,149.90L335.25,148.30Z" fill="#fff"/>
<path d="M336.60,152.35L337.95,153.95L336.60,155.55L335.25,153.95Z" fill="#fff"/>
<path d="M339.45,24.90L340.80,26.50L339.45,28.10L338.10,26.50Z" fill="#fff"/>
<path d="M339.45,30.55L340.80,32.15L339.45,33.75L338.10,32.15Z" fill="#fff"/>
<path d="M339.45,36.20L340.80,37.80L339.45,39.40L338.10,37.80Z" fill="#fff"/>
<path d="M339.45,41.85L340.80,43.45L339.45,45.05L338.10,43.45Z" fill="#fff"/>
<path d="M339.45,47.50L340.80,49.10L339.45,50.70L338.10,49.10Z" fill="#fff"/>
<path d="M339.45,53.15L340.80,54.75L339.45,56.35L338.10,54.75Z" fill="#fff"/>
<path d="M339.45,58.80L340.80,60.40L339.45,62.00L338.10,60.40Z" fill="#fff"/>
<path d="M339.45,64.45L340.80,66.05L339.45,67.65L338.10,66.05Z" fill="#fff"/>
<path d="M339.45,70.10L340.80,71.70L339.45,73.30L338.10,71.70Z" fill="#fff"/>
<path d="M339.45,75.75L340.80,77.35L339.45,78.95L338.10,77.35Z" fill="#fff"/>
<path d="M339.45,81.40L340.80,83.00L339.45,84.60L338.10,83.00Z" fill="#fff"/>
<path d="M339.45,87.05L340.80,88.65L339.45,90.25L338.10,88.65Z" fill="#fff"/>
<path d="M339.45,92.70L340.80,94.30L339.45,95.90L338.10,94.30Z" fill="#fff"/>
<path d="M339.45,98.35L340.80,99.95L339.45,101.55L338.10,99.95Z" fill="#fff"/>
<path d="M339.45,104.00L340.80,105.60L339.45,107.20L338.10,105.60Z" fill="#fff"/>
<path d="M339.45,109.65L340.80,111.25L339.45,112.85L338.10,111.25Z" fill="#fff"/>
<path d="M339.45,115.30L340.80,116.90L339.45,118.50L338.10,116.90Z" fill="#fff"/>
<path d="M339.45,120.95L340.80,122.55L339.45,124.15L338.10,122.55Z" fill="#fff"/>
<path d="M339.45,126.60L340.80,128.20L339.45,129.80L338.10,128.20Z" fill="#fff"/>
<path d="M339.45,132.25L340.80,133.85L339.45,135.45L338.10,133.85Z" fill="#fff"/>
<path d="M339.45,137.90L340.80,139.50L339.45,141.10L338.10,139.50Z" fill="#fff"/>
<path d="M339.45,143.55L340.80,145.15L339.45,146.75L338.10,145.15Z" fill="#fff"/>
<path d="M339.45,149.20L340.80,150.80L339.45,152.40L338.10,150.80Z" fill="#fff"/>
<path d="M339.45,154.85L340.80,156.45L339.45,158.05L338.10,156.45Z" fill="#fff"/>
<path d="M342.30,22.40L343.65,24.00L342.30,25.60L340.95,24.00Z" fill="#fff"/>
<path d="M342.30,28.05L343.65,29.65L342.30,31.25L340.95,29.65Z" fill="#fff"/>
<path d="M342.30,33.70L343.65,35.30L342.30,36.90L340.95,35.30Z" fill="#fff"/>
<path d="M342.30,39.35L343.65,40.95L342.30,42.55L340.95,40.95Z" fill="#fff"/>
<path d="M342.30,45.00L343.65,46.60L342.30,48.20L340.95,46.60Z" fill="#fff"/>
<path d="M342.30,50.65L343.65,52.25L342.30,53.85L340.95,52.25Z" fill="#fff"/>
<path d="M342.30,56.30L343.65,57.90L342.30,59.50L340.95,57.90Z" fill="#fff"/>
<path d="M342.30,61.95L343.65,63.55L342.30,65.15L340.95,63.55Z" fill="#fff"/>
<path d="M342.30,67.60L343.65,69.20L342.30,70.80L340.95,69.20Z" fill="#fff"/>
<path d="M342.30,73.25L343.65,74.85L342.30,76.45L340.95,74.85Z" fill="#fff"/>
<path d="M342.30,78.90L343.65,80.50L342.30,82.10L340.95,80.50Z" fill="#fff"/>
<path d="M342.30,84.55L343.65,86.15L342.30,87.75L340.95,86.15Z" fill="#fff"/>
<path d="M342.30,90.20L343.65,91.80L342.30,93.40L340.95,91.80Z" fill="#fff"/>
<path d="M342.30,95.85L343.65,97.45L342.30,99.05L340.95,97.45Z" fill="#fff"/>
<path d="M342.30,101.50L343.65,103.10L342.30,104.70L340.95,103.10Z" fill="#fff"/>
<path d="M342.30,107.15L343.65,108.75L342.30,110.35L340.95,108.75Z" fill="#fff"/>
<path d="M342.30,112.80L343.65,114.40L342.30,116.00L340.95,114.40Z" fill="#fff"/>
<path d="M342.30,118.45L343.65,120.05L342.30,121.65L340.95,120.05Z" fill="#fff"/>
<path d="M342.30,124.10L343.65,125.70L342.30,127.30L340.95,125.70Z" fill="#fff"/>
<path d="M342.30,129.75L343.65,131.35L342.30,132.95L340.95,131.35Z" fill="#fff"/>
<path d="M342.30,135.40L343.65,137.00L342.30,138.60L340.95,137.00Z" fill="#fff"/>
<path d="M342.30,141.05L343.65,142.65L342.30,144.25L340.95,142.65Z" fill="#fff"/>
<path d="M342.30,146.70L343.65,148.30L342.30,149.90L340.95,148.30Z" fill="#fff"/>
<path d="M342.30,152.35L343.65,153.95L342.30,155.55L340.95,153.95Z" fill="#fff"/>
</g>
<rect x="330.50" y="31.40" width="7.00" height="116.30" fill="none" stroke="#111" stroke-width="1"/>
<polygon points="220.80,77.60 221.33,78.97 222.80,79.05 221.66,79.98 222.03,81.40 220.80,80.60 219.57,81.40 219.94,79.98 218.80,79.05 220.27,78.97" fill="#111"/>
<polygon points="241.90,70.70 242.43,72.07 243.90,72.15 242.76,73.08 243.13,74.50 241.90,73.70 240.67,74.50 241.04,73.08 239.90,72.15 241.37,72.07" fill="#111"/>
<polygon points="261.20,38.60 261.73,39.97 263.20,40.05 262.06,40.98 262.43,42.40 261.20,41.60 259.97,42.40 260.34,40.98 259.20,40.05 260.67,39.97" fill="#111"/>
<polygon points="291.60,64.90 292.13,66.27 293.60,66.35 292.46,67.28 292.83,68.70 291.60,67.90 290.37,68.70 290.74,67.28 289.60,66.35 291.07,66.27" fill="#111"/>
<polygon points="312.60,57.50 313.13,58.87 314.60,58.95 313.46,59.88 313.83,61.30 312.60,60.50 311.37,61.30 311.74,59.88 310.60,58.95 312.07,58.87" fill="#111"/>
<polygon points="328.40,19.90 328.93,21.27 330.40,21.35 329.26,22.28 329.63,23.70 328.40,22.90 327.17,23.70 327.54,22.28 326.40,21.35 327.87,21.27" fill="#111"/>
<path d="M252.81,47.35L250.29,55.25M255.51,47.35L252.99,55.25M250.28,50.10L256.28,50.10M249.36,53.00L255.36,53.00" stroke="#111" stroke-width="0.95" fill="none"/>
<path d="M267.06,39.05L264.54,46.95M269.76,39.05L267.24,46.95M264.53,41.80L270.53,41.80M263.61,44.70L269.61,44.70" stroke="#111" stroke-width="0.95" fill="none"/>
<path d="M325.21,29.45L322.69,37.35M327.91,29.45L325.39,37.35M322.68,32.20L328.68,32.20M321.76,35.10L327.76,35.10" stroke="#111" stroke-width="0.95" fill="none"/>
<path d="M338.71,15.55L336.19,23.45M341.41,15.55L338.89,23.45M336.18,18.30L342.18,18.30M335.26,21.20L341.26,21.20" stroke="#111" stroke-width="0.95" fill="none"/>
<rect x="359.3" y="15.10" width="16.6" height="7.3" fill="#fff" stroke="#111" stroke-width="1"/>
<text x="381.5" y="23.00" class="t" style="font-size:12px">WT NC</text>
<rect x="358.8" y="29.05" width="17.6" height="8.3" fill="#111"/>
<text x="381.5" y="37.45" class="t" style="font-size:12px">WT HFD</text>
<clipPath id="c13"><rect x="358.80" y="43.50" width="17.60" height="8.30"/></clipPath>
<g clip-path="url(#c13)">
<rect x="358.80" y="43.50" width="17.60" height="8.30" fill="#fff"/>
<line x1="356.80" y1="80.80" x2="386.70" y2="50.90" stroke="#111" stroke-width="1.75"/>
<line x1="356.80" y1="75.40" x2="386.70" y2="45.50" stroke="#111" stroke-width="1.75"/>
<line x1="356.80" y1="70.00" x2="386.70" y2="40.10" stroke="#111" stroke-width="1.75"/>
<line x1="356.80" y1="64.60" x2="386.70" y2="34.70" stroke="#111" stroke-width="1.75"/>
<line x1="356.80" y1="59.20" x2="386.70" y2="29.30" stroke="#111" stroke-width="1.75"/>
<line x1="356.80" y1="53.80" x2="386.70" y2="23.90" stroke="#111" stroke-width="1.75"/>
<line x1="356.80" y1="48.40" x2="386.70" y2="18.50" stroke="#111" stroke-width="1.75"/>
<line x1="356.80" y1="43.00" x2="386.70" y2="13.10" stroke="#111" stroke-width="1.75"/>
<line x1="356.80" y1="37.60" x2="386.70" y2="7.70" stroke="#111" stroke-width="1.75"/>
</g>
<rect x="359.30" y="44.00" width="16.60" height="7.30" fill="none" stroke="#111" stroke-width="1"/>
<text x="381.5" y="51.90" class="t" style="font-size:12px">Het NC</text>
<clipPath id="c14"><rect x="358.80" y="57.95" width="17.60" height="8.30"/></clipPath>
<g clip-path="url(#c14)">
<rect x="358.80" y="57.95" width="17.60" height="8.30" fill="#fff"/>
<line x1="356.80" y1="95.25" x2="386.70" y2="65.35" stroke="#111" stroke-width="2.05"/>
<line x1="356.80" y1="89.85" x2="386.70" y2="59.95" stroke="#111" stroke-width="2.05"/>
<line x1="356.80" y1="84.45" x2="386.70" y2="54.55" stroke="#111" stroke-width="2.05"/>
<line x1="356.80" y1="79.05" x2="386.70" y2="49.15" stroke="#111" stroke-width="2.05"/>
<line x1="356.80" y1="73.65" x2="386.70" y2="43.75" stroke="#111" stroke-width="2.05"/>
<line x1="356.80" y1="68.25" x2="386.70" y2="38.35" stroke="#111" stroke-width="2.05"/>
<line x1="356.80" y1="62.85" x2="386.70" y2="32.95" stroke="#111" stroke-width="2.05"/>
<line x1="356.80" y1="57.45" x2="386.70" y2="27.55" stroke="#111" stroke-width="2.05"/>
<line x1="356.80" y1="52.05" x2="386.70" y2="22.15" stroke="#111" stroke-width="2.05"/>
</g>
<rect x="359.30" y="58.45" width="16.60" height="7.30" fill="none" stroke="#111" stroke-width="1"/>
<text x="381.5" y="66.35" class="t" style="font-size:12px">Het HFD</text>
<clipPath id="c15"><rect x="358.80" y="72.40" width="17.60" height="8.30"/></clipPath>
<g clip-path="url(#c15)">
<rect x="358.80" y="72.40" width="17.60" height="8.30" fill="#fff"/>
<line x1="354.60" y1="27.90" x2="380.25" y2="53.32" stroke="#444" stroke-width="0.55"/>
<line x1="354.60" y1="33.55" x2="380.25" y2="58.97" stroke="#444" stroke-width="0.55"/>
<line x1="354.60" y1="39.20" x2="380.25" y2="64.62" stroke="#444" stroke-width="0.55"/>
<line x1="354.60" y1="44.85" x2="380.25" y2="70.27" stroke="#444" stroke-width="0.55"/>
<line x1="354.60" y1="50.50" x2="380.25" y2="75.92" stroke="#444" stroke-width="0.55"/>
<line x1="354.60" y1="56.15" x2="380.25" y2="81.57" stroke="#444" stroke-width="0.55"/>
<line x1="354.60" y1="61.80" x2="380.25" y2="87.22" stroke="#444" stroke-width="0.55"/>
<line x1="354.60" y1="67.45" x2="380.25" y2="92.87" stroke="#444" stroke-width="0.55"/>
<line x1="354.60" y1="73.10" x2="380.25" y2="98.52" stroke="#444" stroke-width="0.55"/>
<line x1="354.60" y1="78.75" x2="380.25" y2="104.17" stroke="#444" stroke-width="0.55"/>
<line x1="354.60" y1="84.40" x2="380.25" y2="109.82" stroke="#444" stroke-width="0.55"/>
<line x1="354.60" y1="90.05" x2="380.25" y2="115.47" stroke="#444" stroke-width="0.55"/>
<line x1="354.60" y1="95.70" x2="380.25" y2="121.12" stroke="#444" stroke-width="0.55"/>
<line x1="354.60" y1="101.35" x2="380.25" y2="126.77" stroke="#444" stroke-width="0.55"/>
<line x1="354.60" y1="107.00" x2="380.25" y2="132.42" stroke="#444" stroke-width="0.55"/>
<line x1="354.60" y1="112.65" x2="380.25" y2="138.07" stroke="#444" stroke-width="0.55"/>
<line x1="354.60" y1="118.30" x2="380.25" y2="143.72" stroke="#444" stroke-width="0.55"/>
<line x1="354.60" y1="123.95" x2="380.25" y2="149.37" stroke="#444" stroke-width="0.55"/>
<line x1="354.60" y1="27.90" x2="380.25" y2="2.48" stroke="#444" stroke-width="0.55"/>
<line x1="354.60" y1="33.55" x2="380.25" y2="8.13" stroke="#444" stroke-width="0.55"/>
<line x1="354.60" y1="39.20" x2="380.25" y2="13.78" stroke="#444" stroke-width="0.55"/>
<line x1="354.60" y1="44.85" x2="380.25" y2="19.43" stroke="#444" stroke-width="0.55"/>
<line x1="354.60" y1="50.50" x2="380.25" y2="25.08" stroke="#444" stroke-width="0.55"/>
<line x1="354.60" y1="56.15" x2="380.25" y2="30.73" stroke="#444" stroke-width="0.55"/>
<line x1="354.60" y1="61.80" x2="380.25" y2="36.38" stroke="#444" stroke-width="0.55"/>
<line x1="354.60" y1="67.45" x2="380.25" y2="42.03" stroke="#444" stroke-width="0.55"/>
<line x1="354.60" y1="73.10" x2="380.25" y2="47.68" stroke="#444" stroke-width="0.55"/>
<line x1="354.60" y1="78.75" x2="380.25" y2="53.33" stroke="#444" stroke-width="0.55"/>
<line x1="354.60" y1="84.40" x2="380.25" y2="58.98" stroke="#444" stroke-width="0.55"/>
<line x1="354.60" y1="90.05" x2="380.25" y2="64.63" stroke="#444" stroke-width="0.55"/>
<line x1="354.60" y1="95.70" x2="380.25" y2="70.28" stroke="#444" stroke-width="0.55"/>
<line x1="354.60" y1="101.35" x2="380.25" y2="75.93" stroke="#444" stroke-width="0.55"/>
<line x1="354.60" y1="107.00" x2="380.25" y2="81.58" stroke="#444" stroke-width="0.55"/>
<line x1="354.60" y1="112.65" x2="380.25" y2="87.23" stroke="#444" stroke-width="0.55"/>
<line x1="354.60" y1="118.30" x2="380.25" y2="92.88" stroke="#444" stroke-width="0.55"/>
<line x1="354.60" y1="123.95" x2="380.25" y2="98.53" stroke="#444" stroke-width="0.55"/>
<circle cx="354.60" cy="67.45" r="1.2" fill="#111"/>
<circle cx="354.60" cy="73.10" r="1.2" fill="#111"/>
<circle cx="354.60" cy="78.75" r="1.2" fill="#111"/>
<circle cx="354.60" cy="84.40" r="1.2" fill="#111"/>
<circle cx="357.45" cy="64.55" r="1.2" fill="#111"/>
<circle cx="357.45" cy="70.20" r="1.2" fill="#111"/>
<circle cx="357.45" cy="75.85" r="1.2" fill="#111"/>
<circle cx="357.45" cy="81.50" r="1.2" fill="#111"/>
<circle cx="357.45" cy="87.15" r="1.2" fill="#111"/>
<circle cx="360.30" cy="67.45" r="1.2" fill="#111"/>
<circle cx="360.30" cy="73.10" r="1.2" fill="#111"/>
<circle cx="360.30" cy="78.75" r="1.2" fill="#111"/>
<circle cx="360.30" cy="84.40" r="1.2" fill="#111"/>
<circle cx="363.15" cy="64.55" r="1.2" fill="#111"/>
<circle cx="363.15" cy="70.20" r="1.2" fill="#111"/>
<circle cx="363.15" cy="75.85" r="1.2" fill="#111"/>
<circle cx="363.15" cy="81.50" r="1.2" fill="#111"/>
<circle cx="363.15" cy="87.15" r="1.2" fill="#111"/>
<circle cx="366.00" cy="67.45" r="1.2" fill="#111"/>
<circle cx="366.00" cy="73.10" r="1.2" fill="#111"/>
<circle cx="366.00" cy="78.75" r="1.2" fill="#111"/>
<circle cx="366.00" cy="84.40" r="1.2" fill="#111"/>
<circle cx="368.85" cy="64.55" r="1.2" fill="#111"/>
<circle cx="368.85" cy="70.20" r="1.2" fill="#111"/>
<circle cx="368.85" cy="75.85" r="1.2" fill="#111"/>
<circle cx="368.85" cy="81.50" r="1.2" fill="#111"/>
<circle cx="368.85" cy="87.15" r="1.2" fill="#111"/>
<circle cx="371.70" cy="67.45" r="1.2" fill="#111"/>
<circle cx="371.70" cy="73.10" r="1.2" fill="#111"/>
<circle cx="371.70" cy="78.75" r="1.2" fill="#111"/>
<circle cx="371.70" cy="84.40" r="1.2" fill="#111"/>
<circle cx="374.55" cy="64.55" r="1.2" fill="#111"/>
<circle cx="374.55" cy="70.20" r="1.2" fill="#111"/>
<circle cx="374.55" cy="75.85" r="1.2" fill="#111"/>
<circle cx="374.55" cy="81.50" r="1.2" fill="#111"/>
<circle cx="374.55" cy="87.15" r="1.2" fill="#111"/>
<circle cx="377.40" cy="67.45" r="1.2" fill="#111"/>
<circle cx="377.40" cy="73.10" r="1.2" fill="#111"/>
<circle cx="377.40" cy="78.75" r="1.2" fill="#111"/>
<circle cx="377.40" cy="84.40" r="1.2" fill="#111"/>
<circle cx="380.25" cy="64.55" r="1.2" fill="#111"/>
<circle cx="380.25" cy="70.20" r="1.2" fill="#111"/>
<circle cx="380.25" cy="75.85" r="1.2" fill="#111"/>
<circle cx="380.25" cy="81.50" r="1.2" fill="#111"/>
<circle cx="380.25" cy="87.15" r="1.2" fill="#111"/>
</g>
<rect x="359.30" y="72.90" width="16.60" height="7.30" fill="none" stroke="#111" stroke-width="1"/>
<text x="381.5" y="80.80" class="t" style="font-size:12px">ob/ob NC</text>
<clipPath id="c16"><rect x="358.80" y="86.85" width="17.60" height="8.30"/></clipPath>
<g clip-path="url(#c16)">
<rect x="358.80" y="86.85" width="17.60" height="8.30" fill="#111"/>
<path d="M356.55,81.40L357.90,83.00L356.55,84.60L355.20,83.00Z" fill="#fff"/>
<path d="M356.55,87.05L357.90,88.65L356.55,90.25L355.20,88.65Z" fill="#fff"/>
<path d="M356.55,92.70L357.90,94.30L356.55,95.90L355.20,94.30Z" fill="#fff"/>
<path d="M356.55,98.35L357.90,99.95L356.55,101.55L355.20,99.95Z" fill="#fff"/>
<path d="M359.40,78.90L360.75,80.50L359.40,82.10L358.05,80.50Z" fill="#fff"/>
<path d="M359.40,84.55L360.75,86.15L359.40,87.75L358.05,86.15Z" fill="#fff"/>
<path d="M359.40,90.20L360.75,91.80L359.40,93.40L358.05,91.80Z" fill="#fff"/>
<path d="M359.40,95.85L360.75,97.45L359.40,99.05L358.05,97.45Z" fill="#fff"/>
<path d="M359.40,101.50L360.75,103.10L359.40,104.70L358.05,103.10Z" fill="#fff"/>
<path d="M362.25,81.40L363.60,83.00L362.25,84.60L360.90,83.00Z" fill="#fff"/>
<path d="M362.25,87.05L363.60,88.65L362.25,90.25L360.90,88.65Z" fill="#fff"/>
<path d="M362.25,92.70L363.60,94.30L362.25,95.90L360.90,94.30Z" fill="#fff"/>
<path d="M362.25,98.35L363.60,99.95L362.25,101.55L360.90,99.95Z" fill="#fff"/>
<path d="M365.10,78.90L366.45,80.50L365.10,82.10L363.75,80.50Z" fill="#fff"/>
<path d="M365.10,84.55L366.45,86.15L365.10,87.75L363.75,86.15Z" fill="#fff"/>
<path d="M365.10,90.20L366.45,91.80L365.10,93.40L363.75,91.80Z" fill="#fff"/>
<path d="M365.10,95.85L366.45,97.45L365.10,99.05L363.75,97.45Z" fill="#fff"/>
<path d="M365.10,101.50L366.45,103.10L365.10,104.70L363.75,103.10Z" fill="#fff"/>
<path d="M367.95,81.40L369.30,83.00L367.95,84.60L366.60,83.00Z" fill="#fff"/>
<path d="M367.95,87.05L369.30,88.65L367.95,90.25L366.60,88.65Z" fill="#fff"/>
<path d="M367.95,92.70L369.30,94.30L367.95,95.90L366.60,94.30Z" fill="#fff"/>
<path d="M367.95,98.35L369.30,99.95L367.95,101.55L366.60,99.95Z" fill="#fff"/>
<path d="M370.80,78.90L372.15,80.50L370.80,82.10L369.45,80.50Z" fill="#fff"/>
<path d="M370.80,84.55L372.15,86.15L370.80,87.75L369.45,86.15Z" fill="#fff"/>
<path d="M370.80,90.20L372.15,91.80L370.80,93.40L369.45,91.80Z" fill="#fff"/>
<path d="M370.80,95.85L372.15,97.45L370.80,99.05L369.45,97.45Z" fill="#fff"/>
<path d="M370.80,101.50L372.15,103.10L370.80,104.70L369.45,103.10Z" fill="#fff"/>
<path d="M373.65,81.40L375.00,83.00L373.65,84.60L372.30,83.00Z" fill="#fff"/>
<path d="M373.65,87.05L375.00,88.65L373.65,90.25L372.30,88.65Z" fill="#fff"/>
<path d="M373.65,92.70L375.00,94.30L373.65,95.90L372.30,94.30Z" fill="#fff"/>
<path d="M373.65,98.35L375.00,99.95L373.65,101.55L372.30,99.95Z" fill="#fff"/>
<path d="M376.50,78.90L377.85,80.50L376.50,82.10L375.15,80.50Z" fill="#fff"/>
<path d="M376.50,84.55L377.85,86.15L376.50,87.75L375.15,86.15Z" fill="#fff"/>
<path d="M376.50,90.20L377.85,91.80L376.50,93.40L375.15,91.80Z" fill="#fff"/>
<path d="M376.50,95.85L377.85,97.45L376.50,99.05L375.15,97.45Z" fill="#fff"/>
<path d="M376.50,101.50L377.85,103.10L376.50,104.70L375.15,103.10Z" fill="#fff"/>
<path d="M379.35,81.40L380.70,83.00L379.35,84.60L378.00,83.00Z" fill="#fff"/>
<path d="M379.35,87.05L380.70,88.65L379.35,90.25L378.00,88.65Z" fill="#fff"/>
<path d="M379.35,92.70L380.70,94.30L379.35,95.90L378.00,94.30Z" fill="#fff"/>
<path d="M379.35,98.35L380.70,99.95L379.35,101.55L378.00,99.95Z" fill="#fff"/>
</g>
<rect x="359.30" y="87.35" width="16.60" height="7.30" fill="none" stroke="#111" stroke-width="1"/>
<text x="381.5" y="95.25" class="t" style="font-size:12px">ob/ob HFD</text>
<line x1="45.9" y1="222.5" x2="45.9" y2="346.9" stroke="#7a7a7a" stroke-width="2"/>
<line x1="44.9" y1="345.9" x2="230" y2="345.9" stroke="#7a7a7a" stroke-width="2"/>
<line x1="43.3" y1="345.60" x2="45.4" y2="345.60" stroke="#333" stroke-width="1.2"/>
<text x="37.6" y="349.50" class="t" text-anchor="end" style="font-size:11.2px">0.0</text>
<line x1="43.3" y1="321.12" x2="45.4" y2="321.12" stroke="#333" stroke-width="1.2"/>
<text x="37.6" y="325.02" class="t" text-anchor="end" style="font-size:11.2px">0.5</text>
<line x1="43.3" y1="296.65" x2="45.4" y2="296.65" stroke="#333" stroke-width="1.2"/>
<text x="37.6" y="300.55" class="t" text-anchor="end" style="font-size:11.2px">1.0</text>
<line x1="43.3" y1="272.18" x2="45.4" y2="272.18" stroke="#333" stroke-width="1.2"/>
<text x="37.6" y="276.07" class="t" text-anchor="end" style="font-size:11.2px">1.5</text>
<line x1="43.3" y1="247.70" x2="45.4" y2="247.70" stroke="#333" stroke-width="1.2"/>
<text x="37.6" y="251.60" class="t" text-anchor="end" style="font-size:11.2px">2.0</text>
<line x1="43.3" y1="223.23" x2="45.4" y2="223.23" stroke="#333" stroke-width="1.2"/>
<text x="37.6" y="227.13" class="t" text-anchor="end" style="font-size:11.2px">2.5</text>
<text x="0.6" y="224" class="t" style="font-size:15.5px">b</text>
<text transform="translate(10.3,283.6) rotate(-90)" class="t" text-anchor="middle" style="font-size:12.1px">Tumor Weight (g)</text>
<line x1="61.3" y1="346.5" x2="61.3" y2="348.3" stroke="#333" stroke-width="1.2"/>
<text transform="translate(64.50,357.5) rotate(-45)" class="t" text-anchor="end" style="font-size:12px">WT NC</text>
<line x1="91.8" y1="346.5" x2="91.8" y2="348.3" stroke="#333" stroke-width="1.2"/>
<text transform="translate(95.00,357.5) rotate(-45)" class="t" text-anchor="end" style="font-size:12px">WT HFD</text>
<line x1="122.5" y1="346.5" x2="122.5" y2="348.3" stroke="#333" stroke-width="1.2"/>
<text transform="translate(125.70,357.5) rotate(-45)" class="t" text-anchor="end" style="font-size:12px">Het NC</text>
<line x1="153.1" y1="346.5" x2="153.1" y2="348.3" stroke="#333" stroke-width="1.2"/>
<text transform="translate(156.30,357.5) rotate(-45)" class="t" text-anchor="end" style="font-size:12px">Het HFD</text>
<line x1="183.8" y1="346.5" x2="183.8" y2="348.3" stroke="#333" stroke-width="1.2"/>
<text transform="translate(187.00,357.5) rotate(-45)" class="t" text-anchor="end" style="font-size:12px">ob/ob NC</text>
<line x1="214.6" y1="346.5" x2="214.6" y2="348.3" stroke="#333" stroke-width="1.2"/>
<text transform="translate(217.80,357.5) rotate(-45)" class="t" text-anchor="end" style="font-size:12px">ob/ob HFD</text>
<line x1="61.25" y1="303.00" x2="61.25" y2="311.70" stroke="#111" stroke-width="1.2"/>
<line x1="61.25" y1="330.80" x2="61.25" y2="335.90" stroke="#111" stroke-width="1.2"/>
<line x1="55.75" y1="303.00" x2="66.75" y2="303.00" stroke="#111" stroke-width="1.2"/>
<line x1="55.75" y1="335.90" x2="66.75" y2="335.90" stroke="#111" stroke-width="1.2"/>
<rect x="51.60" y="312.50" width="19.30" height="17.50" fill="#fff" stroke="#111" stroke-width="1.6"/>
<line x1="50.80" y1="323.70" x2="71.70" y2="323.70" stroke="#111" stroke-width="1.8"/>
<circle cx="61.4" cy="282.5" r="1.8" fill="#111"/>
<circle cx="61.4" cy="291" r="1.8" fill="#111"/>
<circle cx="63.1" cy="298.6" r="1.8" fill="#111"/>
<circle cx="59.8" cy="302" r="1.8" fill="#111"/>
<circle cx="57.1" cy="336.5" r="1.8" fill="#111"/>
<circle cx="61.4" cy="341" r="1.8" fill="#111"/>
<circle cx="65.1" cy="339" r="1.8" fill="#111"/>
<line x1="92.00" y1="280.80" x2="92.00" y2="290.40" stroke="#111" stroke-width="1.2"/>
<line x1="92.00" y1="320.50" x2="92.00" y2="327.60" stroke="#111" stroke-width="1.2"/>
<line x1="86.50" y1="280.80" x2="97.50" y2="280.80" stroke="#111" stroke-width="1.2"/>
<line x1="86.50" y1="327.60" x2="97.50" y2="327.60" stroke="#111" stroke-width="1.2"/>
<clipPath id="c17"><rect x="81.6" y="290.4" width="20.80" height="30.10"/></clipPath>
<rect x="81.6" y="290.4" width="20.80" height="30.10" fill="#fff"/>
<g clip-path="url(#c17)"><line x1="79.60" y1="359.30" x2="142.40" y2="296.50" stroke="#111" stroke-width="1.75"/><line x1="79.60" y1="354.70" x2="142.40" y2="291.90" stroke="#111" stroke-width="1.75"/><line x1="79.60" y1="350.10" x2="142.40" y2="287.30" stroke="#111" stroke-width="1.75"/><line x1="79.60" y1="345.50" x2="142.40" y2="282.70" stroke="#111" stroke-width="1.75"/><line x1="79.60" y1="340.90" x2="142.40" y2="278.10" stroke="#111" stroke-width="1.75"/><line x1="79.60" y1="336.30" x2="142.40" y2="273.50" stroke="#111" stroke-width="1.75"/><line x1="79.60" y1="331.70" x2="142.40" y2="268.90" stroke="#111" stroke-width="1.75"/><line x1="79.60" y1="327.10" x2="142.40" y2="264.30" stroke="#111" stroke-width="1.75"/><line x1="79.60" y1="322.50" x2="142.40" y2="259.70" stroke="#111" stroke-width="1.75"/><line x1="79.60" y1="317.90" x2="142.40" y2="255.10" stroke="#111" stroke-width="1.75"/><line x1="79.60" y1="313.30" x2="142.40" y2="250.50" stroke="#111" stroke-width="1.75"/><line x1="79.60" y1="308.70" x2="142.40" y2="245.90" stroke="#111" stroke-width="1.75"/><line x1="79.60" y1="304.10" x2="142.40" y2="241.30" stroke="#111" stroke-width="1.75"/><line x1="79.60" y1="299.50" x2="142.40" y2="236.70" stroke="#111" stroke-width="1.75"/><line x1="79.60" y1="294.90" x2="142.40" y2="232.10" stroke="#111" stroke-width="1.75"/><line x1="79.60" y1="290.30" x2="142.40" y2="227.50" stroke="#111" stroke-width="1.75"/><line x1="79.60" y1="285.70" x2="142.40" y2="222.90" stroke="#111" stroke-width="1.75"/><line x1="79.60" y1="281.10" x2="142.40" y2="218.30" stroke="#111" stroke-width="1.75"/><line x1="79.60" y1="276.50" x2="142.40" y2="213.70" stroke="#111" stroke-width="1.75"/><line x1="79.60" y1="271.90" x2="142.40" y2="209.10" stroke="#111" stroke-width="1.75"/></g>
<rect x="82.40" y="291.20" width="19.20" height="28.50" fill="none" stroke="#111" stroke-width="1.6"/>
<line x1="81.60" y1="308.90" x2="102.40" y2="308.90" stroke="#111" stroke-width="1.8"/>
<circle cx="92.1" cy="256.8" r="1.8" fill="#111"/>
<circle cx="92.1" cy="264.5" r="1.8" fill="#111"/>
<circle cx="90.3" cy="277.5" r="1.8" fill="#111"/>
<circle cx="93.9" cy="280" r="1.8" fill="#111"/>
<circle cx="86" cy="329.2" r="1.8" fill="#111"/>
<circle cx="90" cy="330" r="1.8" fill="#111"/>
<circle cx="94" cy="330" r="1.8" fill="#111"/>
<circle cx="97.5" cy="326.5" r="1.8" fill="#111"/>
<line x1="122.70" y1="309.40" x2="122.70" y2="318.00" stroke="#111" stroke-width="1.2"/>
<line x1="122.70" y1="331.20" x2="122.70" y2="336.60" stroke="#111" stroke-width="1.2"/>
<line x1="117.20" y1="309.40" x2="128.20" y2="309.40" stroke="#111" stroke-width="1.2"/>
<line x1="117.20" y1="336.60" x2="128.20" y2="336.60" stroke="#111" stroke-width="1.2"/>
<rect x="113.30" y="318.80" width="18.80" height="11.60" fill="#fff" stroke="#111" stroke-width="1.6"/>
<line x1="112.50" y1="323.70" x2="132.90" y2="323.70" stroke="#111" stroke-width="1.8"/>
<circle cx="122.2" cy="262.9" r="1.8" fill="#111"/>
<circle cx="122.2" cy="296" r="1.8" fill="#111"/>
<circle cx="120.2" cy="341.8" r="1.8" fill="#111"/>
<circle cx="124" cy="340.7" r="1.8" fill="#111"/>
<line x1="153.05" y1="281.30" x2="153.05" y2="297.60" stroke="#111" stroke-width="1.2"/>
<line x1="153.05" y1="319.20" x2="153.05" y2="326.00" stroke="#111" stroke-width="1.2"/>
<line x1="147.55" y1="281.30" x2="158.55" y2="281.30" stroke="#111" stroke-width="1.2"/>
<line x1="147.55" y1="326.00" x2="158.55" y2="326.00" stroke="#111" stroke-width="1.2"/>
<clipPath id="c18"><rect x="142.6" y="297.6" width="20.90" height="21.60"/></clipPath>
<rect x="142.6" y="297.6" width="20.90" height="21.60" fill="#fff"/>
<g clip-path="url(#c18)"><line x1="140.60" y1="358.00" x2="203.50" y2="295.10" stroke="#111" stroke-width="1.75"/><line x1="140.60" y1="353.40" x2="203.50" y2="290.50" stroke="#111" stroke-width="1.75"/><line x1="140.60" y1="348.80" x2="203.50" y2="285.90" stroke="#111" stroke-width="1.75"/><line x1="140.60" y1="344.20" x2="203.50" y2="281.30" stroke="#111" stroke-width="1.75"/><line x1="140.60" y1="339.60" x2="203.50" y2="276.70" stroke="#111" stroke-width="1.75"/><line x1="140.60" y1="335.00" x2="203.50" y2="272.10" stroke="#111" stroke-width="1.75"/><line x1="140.60" y1="330.40" x2="203.50" y2="267.50" stroke="#111" stroke-width="1.75"/><line x1="140.60" y1="325.80" x2="203.50" y2="262.90" stroke="#111" stroke-width="1.75"/><line x1="140.60" y1="321.20" x2="203.50" y2="258.30" stroke="#111" stroke-width="1.75"/><line x1="140.60" y1="316.60" x2="203.50" y2="253.70" stroke="#111" stroke-width="1.75"/><line x1="140.60" y1="312.00" x2="203.50" y2="249.10" stroke="#111" stroke-width="1.75"/><line x1="140.60" y1="307.40" x2="203.50" y2="244.50" stroke="#111" stroke-width="1.75"/><line x1="140.60" y1="302.80" x2="203.50" y2="239.90" stroke="#111" stroke-width="1.75"/><line x1="140.60" y1="298.20" x2="203.50" y2="235.30" stroke="#111" stroke-width="1.75"/><line x1="140.60" y1="293.60" x2="203.50" y2="230.70" stroke="#111" stroke-width="1.75"/><line x1="140.60" y1="289.00" x2="203.50" y2="226.10" stroke="#111" stroke-width="1.75"/><line x1="140.60" y1="284.40" x2="203.50" y2="221.50" stroke="#111" stroke-width="1.75"/><line x1="140.60" y1="279.80" x2="203.50" y2="216.90" stroke="#111" stroke-width="1.75"/><line x1="140.60" y1="275.20" x2="203.50" y2="212.30" stroke="#111" stroke-width="1.75"/><line x1="140.60" y1="270.60" x2="203.50" y2="207.70" stroke="#111" stroke-width="1.75"/></g>
<rect x="143.40" y="298.40" width="19.30" height="20.00" fill="none" stroke="#111" stroke-width="1.6"/>
<line x1="142.60" y1="310.80" x2="163.50" y2="310.80" stroke="#111" stroke-width="1.8"/>
<circle cx="149.4" cy="273.1" r="1.8" fill="#111"/>
<circle cx="156.7" cy="273.1" r="1.8" fill="#111"/>
<circle cx="153.3" cy="276.8" r="1.8" fill="#111"/>
<circle cx="148.8" cy="326.6" r="1.8" fill="#111"/>
<circle cx="153.3" cy="328.9" r="1.8" fill="#111"/>
<circle cx="156.7" cy="326.6" r="1.8" fill="#111"/>
<circle cx="153.3" cy="338" r="1.8" fill="#111"/>
<line x1="183.75" y1="262.90" x2="183.75" y2="279.00" stroke="#111" stroke-width="1.2"/>
<line x1="183.75" y1="316.30" x2="183.75" y2="334.00" stroke="#111" stroke-width="1.2"/>
<line x1="178.25" y1="262.90" x2="189.25" y2="262.90" stroke="#111" stroke-width="1.2"/>
<line x1="178.25" y1="334.00" x2="189.25" y2="334.00" stroke="#111" stroke-width="1.2"/>
<rect x="174.00" y="279.80" width="19.50" height="35.70" fill="#fff" stroke="#111" stroke-width="1.6"/>
<line x1="173.20" y1="301.80" x2="194.30" y2="301.80" stroke="#111" stroke-width="1.8"/>
<circle cx="183.8" cy="245.2" r="1.8" fill="#111"/>
<circle cx="181.6" cy="256.1" r="1.8" fill="#111"/>
<circle cx="185.7" cy="258.4" r="1.8" fill="#111"/>
<circle cx="180" cy="334.6" r="1.8" fill="#111"/>
<circle cx="184.5" cy="334.8" r="1.8" fill="#111"/>
<circle cx="188.2" cy="334.6" r="1.8" fill="#111"/>
<line x1="214.80" y1="272.70" x2="214.80" y2="282.00" stroke="#111" stroke-width="1.2"/>
<line x1="214.80" y1="306.60" x2="214.80" y2="318.30" stroke="#111" stroke-width="1.2"/>
<line x1="209.30" y1="272.70" x2="220.30" y2="272.70" stroke="#111" stroke-width="1.2"/>
<line x1="209.30" y1="318.30" x2="220.30" y2="318.30" stroke="#111" stroke-width="1.2"/>
<clipPath id="c19"><rect x="204.2" y="282.0" width="21.20" height="24.60"/></clipPath>
<rect x="204.2" y="282.0" width="21.20" height="24.60" fill="#fff"/>
<g clip-path="url(#c19)"><line x1="202.20" y1="345.40" x2="265.40" y2="282.20" stroke="#111" stroke-width="1.75"/><line x1="202.20" y1="340.80" x2="265.40" y2="277.60" stroke="#111" stroke-width="1.75"/><line x1="202.20" y1="336.20" x2="265.40" y2="273.00" stroke="#111" stroke-width="1.75"/><line x1="202.20" y1="331.60" x2="265.40" y2="268.40" stroke="#111" stroke-width="1.75"/><line x1="202.20" y1="327.00" x2="265.40" y2="263.80" stroke="#111" stroke-width="1.75"/><line x1="202.20" y1="322.40" x2="265.40" y2="259.20" stroke="#111" stroke-width="1.75"/><line x1="202.20" y1="317.80" x2="265.40" y2="254.60" stroke="#111" stroke-width="1.75"/><line x1="202.20" y1="313.20" x2="265.40" y2="250.00" stroke="#111" stroke-width="1.75"/><line x1="202.20" y1="308.60" x2="265.40" y2="245.40" stroke="#111" stroke-width="1.75"/><line x1="202.20" y1="304.00" x2="265.40" y2="240.80" stroke="#111" stroke-width="1.75"/><line x1="202.20" y1="299.40" x2="265.40" y2="236.20" stroke="#111" stroke-width="1.75"/><line x1="202.20" y1="294.80" x2="265.40" y2="231.60" stroke="#111" stroke-width="1.75"/><line x1="202.20" y1="290.20" x2="265.40" y2="227.00" stroke="#111" stroke-width="1.75"/><line x1="202.20" y1="285.60" x2="265.40" y2="222.40" stroke="#111" stroke-width="1.75"/><line x1="202.20" y1="281.00" x2="265.40" y2="217.80" stroke="#111" stroke-width="1.75"/><line x1="202.20" y1="276.40" x2="265.40" y2="213.20" stroke="#111" stroke-width="1.75"/><line x1="202.20" y1="271.80" x2="265.40" y2="208.60" stroke="#111" stroke-width="1.75"/><line x1="202.20" y1="267.20" x2="265.40" y2="204.00" stroke="#111" stroke-width="1.75"/><line x1="202.20" y1="262.60" x2="265.40" y2="199.40" stroke="#111" stroke-width="1.75"/><line x1="202.20" y1="258.00" x2="265.40" y2="194.80" stroke="#111" stroke-width="1.75"/></g>
<rect x="205.00" y="282.80" width="19.60" height="23.00" fill="none" stroke="#111" stroke-width="1.6"/>
<line x1="204.20" y1="291.70" x2="225.40" y2="291.70" stroke="#111" stroke-width="1.8"/>
<circle cx="214.5" cy="231.8" r="1.8" fill="#111"/>
<circle cx="214.5" cy="255.6" r="1.8" fill="#111"/>
<circle cx="214.3" cy="271.6" r="1.8" fill="#111"/>
<circle cx="214.5" cy="322.4" r="1.8" fill="#111"/>
<circle cx="214.5" cy="324.4" r="1.8" fill="#111"/>
<circle cx="214.5" cy="327.6" r="1.8" fill="#111"/>
<polygon points="92.40,244.05 92.99,245.59 94.63,245.67 93.35,246.71 93.78,248.30 92.40,247.40 91.02,248.30 91.45,246.71 90.17,245.67 91.81,245.59" fill="#111"/>
<polygon points="153.70,256.85 154.29,258.39 155.93,258.47 154.65,259.51 155.08,261.10 153.70,260.20 152.32,261.10 152.75,259.51 151.47,258.47 153.11,258.39" fill="#111"/>
<polygon points="184.50,232.85 185.09,234.39 186.73,234.47 185.45,235.51 185.88,237.10 184.50,236.20 183.12,237.10 183.55,235.51 182.27,234.47 183.91,234.39" fill="#111"/>
<polygon points="211.20,217.45 211.79,218.99 213.43,219.07 212.15,220.11 212.58,221.70 211.20,220.80 209.82,221.70 210.25,220.11 208.97,219.07 210.61,218.99" fill="#111"/>
<path d="M217.21,217.35L214.56,225.65M220.04,217.35L217.39,225.65M214.24,220.24L221.17,220.24M213.26,223.28L220.19,223.28" stroke="#111" stroke-width="1.35" fill="none"/>
<line x1="327.5" y1="223.4" x2="327.5" y2="344.7" stroke="#222" stroke-width="1"/>
<line x1="323.8" y1="344.4" x2="503" y2="344.4" stroke="#222" stroke-width="1.1"/>
<line x1="323.2" y1="344.20" x2="327.5" y2="344.20" stroke="#222" stroke-width="1"/>
<text x="318.8" y="348.50" class="t" text-anchor="end" style="font-size:11.5px">0.0</text>
<line x1="323.2" y1="320.10" x2="327.5" y2="320.10" stroke="#222" stroke-width="1"/>
<text x="318.8" y="324.40" class="t" text-anchor="end" style="font-size:11.5px">0.5</text>
<line x1="323.2" y1="296.00" x2="327.5" y2="296.00" stroke="#222" stroke-width="1"/>
<text x="318.8" y="300.30" class="t" text-anchor="end" style="font-size:11.5px">1.0</text>
<line x1="323.2" y1="271.90" x2="327.5" y2="271.90" stroke="#222" stroke-width="1"/>
<text x="318.8" y="276.20" class="t" text-anchor="end" style="font-size:11.5px">1.5</text>
<line x1="323.2" y1="247.80" x2="327.5" y2="247.80" stroke="#222" stroke-width="1"/>
<text x="318.8" y="252.10" class="t" text-anchor="end" style="font-size:11.5px">2.0</text>
<line x1="323.2" y1="223.70" x2="327.5" y2="223.70" stroke="#222" stroke-width="1"/>
<text x="318.8" y="228.00" class="t" text-anchor="end" style="font-size:11.5px">2.5</text>
<line x1="327.00" y1="344.2" x2="327.00" y2="347.8" stroke="#222" stroke-width="1"/>
<text x="327.00" y="363.6" class="t" text-anchor="middle" style="font-size:11.5px">0</text>
<line x1="362.11" y1="344.2" x2="362.11" y2="347.8" stroke="#222" stroke-width="1"/>
<text x="362.11" y="363.6" class="t" text-anchor="middle" style="font-size:11.5px">20</text>
<line x1="397.22" y1="344.2" x2="397.22" y2="347.8" stroke="#222" stroke-width="1"/>
<text x="397.22" y="363.6" class="t" text-anchor="middle" style="font-size:11.5px">40</text>
<line x1="432.33" y1="344.2" x2="432.33" y2="347.8" stroke="#222" stroke-width="1"/>
<text x="432.33" y="363.6" class="t" text-anchor="middle" style="font-size:11.5px">60</text>
<line x1="467.44" y1="344.2" x2="467.44" y2="347.8" stroke="#222" stroke-width="1"/>
<text x="467.44" y="363.6" class="t" text-anchor="middle" style="font-size:11.5px">80</text>
<line x1="502.55" y1="344.2" x2="502.55" y2="347.8" stroke="#222" stroke-width="1"/>
<text x="502.55" y="363.6" class="t" text-anchor="middle" style="font-size:11.5px">100</text>
<text x="418" y="384.8" class="t" text-anchor="middle" style="font-size:12.4px">Body weights</text>
<text x="280.5" y="225.2" class="t" style="font-size:14.5px">c</text>
<text transform="translate(290.2,285.5) rotate(-90)" class="t" text-anchor="middle" style="font-size:12.2px">Tumor weight (g)</text>
<text x="500" y="239" class="t" style="font-size:11.8px"><tspan style="font-style:italic">r</tspan> = 0.522</text>
<text x="500" y="257.2" class="t" style="font-size:11.5px">p &lt; 0.001</text>
<line x1="351" y1="323.8" x2="507.5" y2="278.4" stroke="#111" stroke-width="1.3"/>
<circle cx="377.2" cy="242.5" r="1.6" fill="#fff" stroke="#111" stroke-width="1.35"/>
<circle cx="378.3" cy="282.3" r="1.6" fill="#fff" stroke="#111" stroke-width="1.35"/>
<circle cx="372.4" cy="289.5" r="1.6" fill="#fff" stroke="#111" stroke-width="1.35"/>
<circle cx="378.4" cy="282.5" r="1.6" fill="#fff" stroke="#111" stroke-width="1.35"/>
<circle cx="372.7" cy="290.4" r="1.6" fill="#fff" stroke="#111" stroke-width="1.35"/>
<circle cx="376.8" cy="298.0" r="1.6" fill="#fff" stroke="#111" stroke-width="1.35"/>
<circle cx="368.6" cy="301.3" r="1.6" fill="#fff" stroke="#111" stroke-width="1.35"/>
<circle cx="370.9" cy="302.7" r="1.6" fill="#fff" stroke="#111" stroke-width="1.35"/>
<circle cx="375.0" cy="303.4" r="1.6" fill="#fff" stroke="#111" stroke-width="1.35"/>
<circle cx="376.7" cy="298.1" r="1.6" fill="#fff" stroke="#111" stroke-width="1.35"/>
<circle cx="368.5" cy="301.5" r="1.6" fill="#fff" stroke="#111" stroke-width="1.35"/>
<circle cx="371.2" cy="302.8" r="1.6" fill="#fff" stroke="#111" stroke-width="1.35"/>
<circle cx="374.6" cy="303.5" r="1.6" fill="#fff" stroke="#111" stroke-width="1.35"/>
<circle cx="370.9" cy="306.6" r="1.6" fill="#fff" stroke="#111" stroke-width="1.35"/>
<circle cx="370.9" cy="309.6" r="1.6" fill="#fff" stroke="#111" stroke-width="1.35"/>
<circle cx="374.6" cy="309.3" r="1.6" fill="#fff" stroke="#111" stroke-width="1.35"/>
<circle cx="378.4" cy="310.6" r="1.6" fill="#fff" stroke="#111" stroke-width="1.35"/>
<circle cx="368.8" cy="314.7" r="1.6" fill="#fff" stroke="#111" stroke-width="1.35"/>
<circle cx="372.2" cy="313.4" r="1.6" fill="#fff" stroke="#111" stroke-width="1.35"/>
<circle cx="375.0" cy="312.7" r="1.6" fill="#fff" stroke="#111" stroke-width="1.35"/>
<circle cx="378.0" cy="313.7" r="1.6" fill="#fff" stroke="#111" stroke-width="1.35"/>
<circle cx="380.4" cy="312.0" r="1.6" fill="#fff" stroke="#111" stroke-width="1.35"/>
<circle cx="370.2" cy="317.1" r="1.6" fill="#fff" stroke="#111" stroke-width="1.35"/>
<circle cx="374.6" cy="315.7" r="1.6" fill="#fff" stroke="#111" stroke-width="1.35"/>
<circle cx="378.0" cy="318.5" r="1.6" fill="#fff" stroke="#111" stroke-width="1.35"/>
<circle cx="381.4" cy="318.5" r="1.6" fill="#fff" stroke="#111" stroke-width="1.35"/>
<circle cx="376.3" cy="320.9" r="1.6" fill="#fff" stroke="#111" stroke-width="1.35"/>
<circle cx="381.8" cy="321.5" r="1.6" fill="#fff" stroke="#111" stroke-width="1.35"/>
<circle cx="370.2" cy="322.9" r="1.6" fill="#fff" stroke="#111" stroke-width="1.35"/>
<circle cx="372.6" cy="322.2" r="1.6" fill="#fff" stroke="#111" stroke-width="1.35"/>
<circle cx="369.5" cy="323.1" r="1.6" fill="#fff" stroke="#111" stroke-width="1.35"/>
<circle cx="372.2" cy="322.8" r="1.6" fill="#fff" stroke="#111" stroke-width="1.35"/>
<circle cx="368.8" cy="325.8" r="1.6" fill="#fff" stroke="#111" stroke-width="1.35"/>
<circle cx="372.2" cy="325.5" r="1.6" fill="#fff" stroke="#111" stroke-width="1.35"/>
<circle cx="375.6" cy="326.2" r="1.6" fill="#fff" stroke="#111" stroke-width="1.35"/>
<circle cx="378.0" cy="324.5" r="1.6" fill="#fff" stroke="#111" stroke-width="1.35"/>
<circle cx="381.8" cy="321.7" r="1.6" fill="#fff" stroke="#111" stroke-width="1.35"/>
<circle cx="378.4" cy="319.0" r="1.6" fill="#fff" stroke="#111" stroke-width="1.35"/>
<circle cx="370.2" cy="328.5" r="1.6" fill="#fff" stroke="#111" stroke-width="1.35"/>
<circle cx="374.6" cy="328.9" r="1.6" fill="#fff" stroke="#111" stroke-width="1.35"/>
<circle cx="378.0" cy="329.2" r="1.6" fill="#fff" stroke="#111" stroke-width="1.35"/>
<circle cx="370.9" cy="332.0" r="1.6" fill="#fff" stroke="#111" stroke-width="1.35"/>
<circle cx="373.3" cy="333.0" r="1.6" fill="#fff" stroke="#111" stroke-width="1.35"/>
<circle cx="377.3" cy="332.3" r="1.6" fill="#fff" stroke="#111" stroke-width="1.35"/>
<circle cx="372.9" cy="335.3" r="1.6" fill="#fff" stroke="#111" stroke-width="1.35"/>
<circle cx="378.0" cy="336.0" r="1.6" fill="#fff" stroke="#111" stroke-width="1.35"/>
<circle cx="369.9" cy="337.7" r="1.6" fill="#fff" stroke="#111" stroke-width="1.35"/>
<circle cx="368.5" cy="339.4" r="1.6" fill="#fff" stroke="#111" stroke-width="1.35"/>
<circle cx="379.0" cy="305.5" r="1.6" fill="#fff" stroke="#111" stroke-width="1.35"/>
<circle cx="376.0" cy="316.5" r="1.6" fill="#fff" stroke="#111" stroke-width="1.35"/>
<circle cx="372.5" cy="319.0" r="1.6" fill="#fff" stroke="#111" stroke-width="1.35"/>
<circle cx="380.0" cy="327.0" r="1.6" fill="#fff" stroke="#111" stroke-width="1.35"/>
<circle cx="375.5" cy="335.5" r="1.6" fill="#fff" stroke="#111" stroke-width="1.35"/>
<circle cx="371.5" cy="329.5" r="1.6" fill="#fff" stroke="#111" stroke-width="1.35"/>
<circle cx="379.5" cy="332.5" r="1.6" fill="#fff" stroke="#111" stroke-width="1.35"/>
<circle cx="374.0" cy="306.5" r="1.6" fill="#fff" stroke="#111" stroke-width="1.35"/>
<circle cx="381.0" cy="315.5" r="1.6" fill="#fff" stroke="#111" stroke-width="1.35"/>
<path d="M381.9,261.0 L384.2,265.0 L379.6,265.0 Z" fill="#fff" stroke="#111" stroke-width="1.3"/>
<path d="M382.0,293.1 L384.3,297.1 L379.7,297.1 Z" fill="#fff" stroke="#111" stroke-width="1.3"/>
<path d="M382.1,293.7 L384.4,297.7 L379.8,297.7 Z" fill="#fff" stroke="#111" stroke-width="1.3"/>
<path d="M380.4,307.2 L382.7,311.2 L378.1,311.2 Z" fill="#fff" stroke="#111" stroke-width="1.3"/>
<path d="M377.3,337.8 L379.6,341.8 L375.0,341.8 Z" fill="#fff" stroke="#111" stroke-width="1.3"/>
<path d="M381.8,338.1 L384.1,342.1 L379.5,342.1 Z" fill="#fff" stroke="#111" stroke-width="1.3"/>
<rect x="450.4" y="244.0" width="2.8" height="2.8" fill="#fff" stroke="#111" stroke-width="1.3"/>
<rect x="433.4" y="255.0" width="2.8" height="2.8" fill="#fff" stroke="#111" stroke-width="1.3"/>
<rect x="462.6" y="257.3" width="2.8" height="2.8" fill="#fff" stroke="#111" stroke-width="1.3"/>
<rect x="461.5" y="266.0" width="2.8" height="2.8" fill="#fff" stroke="#111" stroke-width="1.3"/>
<rect x="439.4" y="274.7" width="2.8" height="2.8" fill="#fff" stroke="#111" stroke-width="1.3"/>
<rect x="450.2" y="278.1" width="2.8" height="2.8" fill="#fff" stroke="#111" stroke-width="1.3"/>
<rect x="452.5" y="277.7" width="2.8" height="2.8" fill="#fff" stroke="#111" stroke-width="1.3"/>
<rect x="454.3" y="275.4" width="2.8" height="2.8" fill="#fff" stroke="#111" stroke-width="1.3"/>
<rect x="456.1" y="273.1" width="2.8" height="2.8" fill="#fff" stroke="#111" stroke-width="1.3"/>
<rect x="461.6" y="274.5" width="2.8" height="2.8" fill="#fff" stroke="#111" stroke-width="1.3"/>
<rect x="454.3" y="287.6" width="2.8" height="2.8" fill="#fff" stroke="#111" stroke-width="1.3"/>
<rect x="450.2" y="293.1" width="2.8" height="2.8" fill="#fff" stroke="#111" stroke-width="1.3"/>
<rect x="453.4" y="294.4" width="2.8" height="2.8" fill="#fff" stroke="#111" stroke-width="1.3"/>
<rect x="456.1" y="294.9" width="2.8" height="2.8" fill="#fff" stroke="#111" stroke-width="1.3"/>
<rect x="452.5" y="297.6" width="2.8" height="2.8" fill="#fff" stroke="#111" stroke-width="1.3"/>
<rect x="452.5" y="300.3" width="2.8" height="2.8" fill="#fff" stroke="#111" stroke-width="1.3"/>
<rect x="455.7" y="301.7" width="2.8" height="2.8" fill="#fff" stroke="#111" stroke-width="1.3"/>
<rect x="452.0" y="303.1" width="2.8" height="2.8" fill="#fff" stroke="#111" stroke-width="1.3"/>
<rect x="462.9" y="288.1" width="2.8" height="2.8" fill="#fff" stroke="#111" stroke-width="1.3"/>
<rect x="465.6" y="288.1" width="2.8" height="2.8" fill="#fff" stroke="#111" stroke-width="1.3"/>
<rect x="462.9" y="294.9" width="2.8" height="2.8" fill="#fff" stroke="#111" stroke-width="1.3"/>
<rect x="439.5" y="292.4" width="2.8" height="2.8" fill="#fff" stroke="#111" stroke-width="1.3"/>
<rect x="433.4" y="306.0" width="2.8" height="2.8" fill="#fff" stroke="#111" stroke-width="1.3"/>
<rect x="439.5" y="305.3" width="2.8" height="2.8" fill="#fff" stroke="#111" stroke-width="1.3"/>
<rect x="439.5" y="308.7" width="2.8" height="2.8" fill="#fff" stroke="#111" stroke-width="1.3"/>
<rect x="433.4" y="312.1" width="2.8" height="2.8" fill="#fff" stroke="#111" stroke-width="1.3"/>
<rect x="461.2" y="316.2" width="2.8" height="2.8" fill="#fff" stroke="#111" stroke-width="1.3"/>
<rect x="456.5" y="326.8" width="2.8" height="2.8" fill="#fff" stroke="#111" stroke-width="1.3"/>
<rect x="462.6" y="330.5" width="2.8" height="2.8" fill="#fff" stroke="#111" stroke-width="1.3"/>
<rect x="414.9" y="324.9" width="2.8" height="2.8" fill="#fff" stroke="#111" stroke-width="1.3"/>
<rect x="414.9" y="331.7" width="2.8" height="2.8" fill="#fff" stroke="#111" stroke-width="1.3"/>
<circle cx="420.8" cy="257.0" r="2.2" fill="#111"/>
<circle cx="427.4" cy="264.5" r="2.2" fill="#111"/>
<circle cx="427.4" cy="277.0" r="2.2" fill="#111"/>
<circle cx="417.4" cy="280.3" r="2.2" fill="#111"/>
<circle cx="417.4" cy="282.7" r="2.2" fill="#111"/>
<circle cx="415.5" cy="287.5" r="2.2" fill="#111"/>
<circle cx="418.2" cy="288.7" r="2.2" fill="#111"/>
<circle cx="427.0" cy="289.0" r="2.2" fill="#111"/>
<circle cx="402.4" cy="298.2" r="2.2" fill="#111"/>
<circle cx="408.3" cy="295.4" r="2.2" fill="#111"/>
<circle cx="412.3" cy="293.0" r="2.2" fill="#111"/>
<circle cx="409.9" cy="298.6" r="2.2" fill="#111"/>
<circle cx="411.9" cy="301.7" r="2.2" fill="#111"/>
<circle cx="417.0" cy="291.4" r="2.2" fill="#111"/>
<circle cx="421.0" cy="293.4" r="2.2" fill="#111"/>
<circle cx="418.2" cy="296.0" r="2.2" fill="#111"/>
<circle cx="418.2" cy="298.5" r="2.2" fill="#111"/>
<circle cx="418.2" cy="301.0" r="2.2" fill="#111"/>
<circle cx="418.2" cy="303.5" r="2.2" fill="#111"/>
<circle cx="406.7" cy="311.1" r="2.2" fill="#111"/>
<circle cx="409.9" cy="310.7" r="2.2" fill="#111"/>
<circle cx="412.3" cy="312.7" r="2.2" fill="#111"/>
<circle cx="411.5" cy="315.1" r="2.2" fill="#111"/>
<circle cx="408.3" cy="314.7" r="2.2" fill="#111"/>
<circle cx="407.5" cy="317.1" r="2.2" fill="#111"/>
<circle cx="409.1" cy="319.0" r="2.2" fill="#111"/>
<circle cx="411.9" cy="320.2" r="2.2" fill="#111"/>
<circle cx="414.7" cy="319.8" r="2.2" fill="#111"/>
<circle cx="416.3" cy="317.5" r="2.2" fill="#111"/>
<circle cx="417.4" cy="314.3" r="2.2" fill="#111"/>
<circle cx="417.0" cy="311.5" r="2.2" fill="#111"/>
<circle cx="416.7" cy="308.7" r="2.2" fill="#111"/>
<circle cx="417.8" cy="304.8" r="2.2" fill="#111"/>
<circle cx="413.9" cy="316.7" r="2.2" fill="#111"/>
<circle cx="418.6" cy="318.7" r="2.2" fill="#111"/>
<circle cx="402.0" cy="322.2" r="2.2" fill="#111"/>
<circle cx="402.0" cy="324.6" r="2.2" fill="#111"/>
<circle cx="402.0" cy="327.0" r="2.2" fill="#111"/>
<circle cx="404.3" cy="327.4" r="2.2" fill="#111"/>
<circle cx="406.7" cy="327.8" r="2.2" fill="#111"/>
<circle cx="409.1" cy="328.2" r="2.2" fill="#111"/>
<path d="M418.3,270.2 L421.2,275.4 L415.4,275.4 Z" fill="#111"/>
<path d="M422.9,273.6 L425.8,278.8 L419.9,278.8 Z" fill="#111"/>
<path d="M435.4,270.2 L438.3,275.4 L432.4,275.4 Z" fill="#111"/>
<path d="M436.0,278.7 L438.9,283.9 L433.1,283.9 Z" fill="#111"/>
<path d="M437.6,281.0 L440.6,286.2 L434.7,286.2 Z" fill="#111"/>
<path d="M435.2,284.6 L438.1,289.8 L432.2,289.8 Z" fill="#111"/>
<path d="M432.5,290.7 L435.4,295.9 L429.6,295.9 Z" fill="#111"/>
<path d="M422.8,273.6 L425.8,278.8 L419.9,278.8 Z" fill="#111"/>
<path d="M426.9,274.0 L429.8,279.2 L423.9,279.2 Z" fill="#111"/>
<path d="M432.6,290.8 L435.6,296.0 L429.7,296.0 Z" fill="#111"/>
<path d="M424.8,294.5 L427.8,299.7 L421.9,299.7 Z" fill="#111"/>
<path d="M437.5,296.5 L440.4,301.7 L434.6,301.7 Z" fill="#111"/>
<path d="M424.3,294.5 L427.2,299.7 L421.4,299.7 Z" fill="#111"/>
<path d="M426.8,296.4 L429.8,301.6 L423.9,301.6 Z" fill="#111"/>
<path d="M432.4,290.7 L435.3,295.9 L429.4,295.9 Z" fill="#111"/>
<path d="M436.8,295.7 L439.8,300.9 L433.9,300.9 Z" fill="#111"/>
<path d="M421.3,313.8 L424.2,319.0 L418.4,319.0 Z" fill="#111"/>
<path d="M425.4,311.1 L428.3,316.3 L422.4,316.3 Z" fill="#111"/>
<path d="M425.9,319.2 L428.8,324.4 L422.9,324.4 Z" fill="#111"/>
<path d="M424.9,325.1 L427.8,330.3 L421.9,330.3 Z" fill="#111"/>
<path d="M432.2,312.0 L435.1,317.2 L429.2,317.2 Z" fill="#111"/>
<path d="M432.2,318.8 L435.1,324.0 L429.2,324.0 Z" fill="#111"/>
<path d="M435.8,316.5 L438.8,321.7 L432.9,321.7 Z" fill="#111"/>
<path d="M435.8,322.9 L438.8,328.1 L432.9,328.1 Z" fill="#111"/>
<path d="M419.5,304.7 L422.4,309.9 L416.6,309.9 Z" fill="#111"/>
<path d="M432.0,290.8 L434.9,296.0 L429.1,296.0 Z" fill="#111"/>
<path d="M436.1,296.3 L439.1,301.5 L433.2,301.5 Z" fill="#111"/>
<path d="M435.4,283.4 L438.3,288.6 L432.4,288.6 Z" fill="#111"/>
<path d="M432.7,312.6 L435.6,317.8 L429.8,317.8 Z" fill="#111"/>
<path d="M436.1,316.0 L439.1,321.2 L433.2,321.2 Z" fill="#111"/>
<path d="M433.4,318.0 L436.3,323.2 L430.4,323.2 Z" fill="#111"/>
<path d="M436.1,322.1 L439.1,327.3 L433.2,327.3 Z" fill="#111"/>
<path d="M423.7,309.4 L426.6,314.6 L420.8,314.6 Z" fill="#111"/>
<path d="M427.4,315.0 L430.3,320.2 L424.4,320.2 Z" fill="#111"/>
<path d="M426.0,321.0 L428.9,326.2 L423.1,326.2 Z" fill="#111"/>
<path d="M437.4,310.7 L440.3,315.9 L434.4,315.9 Z" fill="#111"/>
<path d="M437.4,317.0 L440.3,322.2 L434.4,322.2 Z" fill="#111"/>
<rect x="468.4" y="230.6" width="4" height="4" fill="#111"/>
<rect x="451.7" y="253.6" width="4" height="4" fill="#111"/>
<rect x="470.0" y="269.8" width="4" height="4" fill="#111"/>
<rect x="477.3" y="271.0" width="4" height="4" fill="#111"/>
<rect x="470.0" y="275.3" width="4" height="4" fill="#111"/>
<rect x="472.3" y="275.3" width="4" height="4" fill="#111"/>
<rect x="451.4" y="285.2" width="4" height="4" fill="#111"/>
<rect x="465.0" y="284.3" width="4" height="4" fill="#111"/>
<rect x="468.2" y="281.6" width="4" height="4" fill="#111"/>
<rect x="470.5" y="283.9" width="4" height="4" fill="#111"/>
<rect x="470.5" y="286.1" width="4" height="4" fill="#111"/>
<rect x="468.2" y="290.2" width="4" height="4" fill="#111"/>
<rect x="472.3" y="291.1" width="4" height="4" fill="#111"/>
<rect x="480.2" y="290.5" width="4" height="4" fill="#111"/>
<rect x="480.2" y="299.1" width="4" height="4" fill="#111"/>
<rect x="468.0" y="297.0" width="4" height="4" fill="#111"/>
<rect x="468.0" y="299.5" width="4" height="4" fill="#111"/>
<rect x="468.0" y="302.0" width="4" height="4" fill="#111"/>
<rect x="468.0" y="304.5" width="4" height="4" fill="#111"/>
<rect x="470.5" y="306.5" width="4" height="4" fill="#111"/>
<rect x="472.0" y="307.5" width="4" height="4" fill="#111"/>
<rect x="451.8" y="310.9" width="4" height="4" fill="#111"/>
<rect x="451.8" y="319.4" width="4" height="4" fill="#111"/>
<rect x="470.0" y="315.0" width="4" height="4" fill="#111"/>
<rect x="480.2" y="315.0" width="4" height="4" fill="#111"/>
<rect x="477.2" y="323.5" width="4" height="4" fill="#111"/>
<circle cx="309.1" cy="410.9" r="1.6" fill="#fff" stroke="#111" stroke-width="1.35"/>
<circle cx="309.1" cy="434.1" r="2.2" fill="#111"/>
<path d="M377.1,409.2 L379.4,413.2 L374.8,413.2 Z" fill="#fff" stroke="#111" stroke-width="1.3"/>
<path d="M377.1,431.5 L380.1,436.7 L374.2,436.7 Z" fill="#111"/>
<rect x="448.4" y="409.0" width="2.8" height="2.8" fill="#fff" stroke="#111" stroke-width="1.3"/>
<rect x="447.8" y="432.0" width="4" height="4" fill="#111"/>
<text x="317.2" y="414.9" class="t" style="font-size:11.8px">WT NC</text>
<text x="317.2" y="438.1" class="t" style="font-size:11.8px">WT HFD</text>
<text x="384.5" y="414.9" class="t" style="font-size:11.8px">HET NC</text>
<text x="384.5" y="438.1" class="t" style="font-size:11.8px">HET HFD</text>
<text x="455.8" y="414.1" class="t" style="font-size:12.1px">ob/ob NC</text>
<text x="455.8" y="437.7" class="t" style="font-size:12.1px">ob/ob HFD</text>
</svg>
</body></html>
